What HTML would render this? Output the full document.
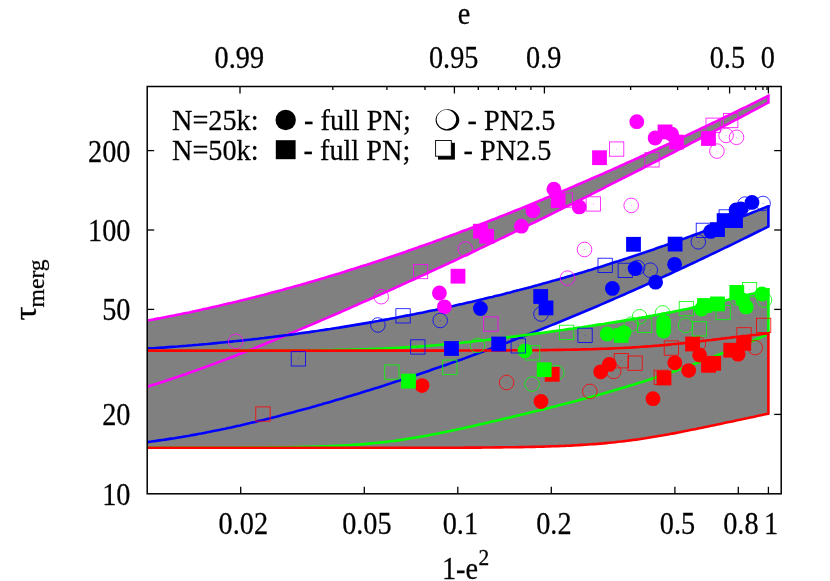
<!DOCTYPE html>
<html><head><meta charset="utf-8"><title>chart</title>
<style>html,body{margin:0;padding:0;background:#fff;}svg{display:block;}text{font-family:"Liberation Serif",serif;fill:#000;stroke:#000;stroke-width:0.25px;}</style>
</head><body>
<svg width="830" height="581" viewBox="0 0 830 581">
<rect width="830" height="581" fill="#fff"/>
<g><path d="M147.2 320.6 L150.2 320.0 L153.2 319.5 L156.2 318.9 L159.2 318.4 L162.2 317.8 L165.2 317.2 L168.2 316.6 L171.2 316.0 L174.2 315.4 L177.2 314.8 L180.2 314.2 L183.2 313.6 L186.2 313.0 L189.2 312.4 L192.2 311.7 L195.2 311.1 L198.2 310.4 L201.2 309.8 L204.2 309.1 L207.2 308.5 L210.2 307.8 L213.2 307.1 L216.2 306.4 L219.2 305.7 L222.2 305.0 L225.2 304.3 L228.2 303.6 L231.2 302.9 L234.2 302.2 L237.2 301.5 L240.2 300.7 L243.2 300.0 L246.2 299.3 L249.2 298.5 L252.2 297.7 L255.2 297.0 L258.2 296.2 L261.2 295.4 L264.2 294.7 L267.2 293.9 L270.2 293.1 L273.2 292.3 L276.2 291.5 L279.2 290.7 L282.2 289.9 L285.2 289.0 L288.2 288.2 L291.2 287.4 L294.2 286.6 L297.2 285.7 L300.2 284.9 L303.2 284.0 L306.2 283.2 L309.2 282.3 L312.2 281.4 L315.2 280.6 L318.2 279.7 L321.2 278.8 L324.2 277.9 L327.2 277.0 L330.2 276.1 L333.2 275.2 L336.2 274.3 L339.2 273.4 L342.2 272.4 L345.2 271.5 L348.2 270.6 L351.2 269.6 L354.2 268.7 L357.2 267.7 L360.2 266.8 L363.2 265.8 L366.2 264.9 L369.2 263.9 L372.2 262.9 L375.2 261.9 L378.2 261.0 L381.2 260.0 L384.2 259.0 L387.2 258.0 L390.2 257.0 L393.2 256.0 L396.2 254.9 L399.2 253.9 L402.2 252.9 L405.2 251.9 L408.2 250.8 L411.2 249.8 L414.2 248.7 L417.2 247.7 L420.2 246.6 L423.2 245.6 L426.2 244.5 L429.2 243.4 L432.2 242.4 L435.2 241.3 L438.2 240.2 L441.2 239.1 L444.2 238.0 L447.2 236.9 L450.2 235.8 L453.2 234.7 L456.2 233.6 L459.2 232.5 L462.2 231.3 L465.2 230.2 L468.2 229.1 L471.2 227.9 L474.2 226.8 L477.2 225.6 L480.2 224.5 L483.2 223.3 L486.2 222.2 L489.2 221.0 L492.2 219.8 L495.2 218.7 L498.2 217.5 L501.2 216.3 L504.2 215.1 L507.2 213.9 L510.2 212.7 L513.2 211.5 L516.2 210.3 L519.2 209.1 L522.2 207.9 L525.2 206.7 L528.2 205.5 L531.2 204.2 L534.2 203.0 L537.2 201.8 L540.2 200.5 L543.2 199.3 L546.2 198.0 L549.2 196.8 L552.2 195.5 L555.2 194.3 L558.2 193.0 L561.2 191.7 L564.2 190.4 L567.2 189.2 L570.2 187.9 L573.2 186.6 L576.2 185.3 L579.2 184.0 L582.2 182.7 L585.2 181.4 L588.2 180.1 L591.2 178.8 L594.2 177.5 L597.2 176.2 L600.2 174.9 L603.2 173.6 L606.2 172.2 L609.2 170.9 L612.2 169.6 L615.2 168.2 L618.2 166.9 L621.2 165.5 L624.2 164.2 L627.2 162.8 L630.2 161.5 L633.2 160.1 L636.2 158.8 L639.2 157.4 L642.2 156.0 L645.2 154.7 L648.2 153.3 L651.2 151.9 L654.2 150.5 L657.2 149.2 L660.2 147.8 L663.2 146.4 L666.2 145.0 L669.2 143.6 L672.2 142.2 L675.2 140.8 L678.2 139.4 L681.2 138.0 L684.2 136.6 L687.2 135.1 L690.2 133.7 L693.2 132.3 L696.2 130.9 L699.2 129.5 L702.2 128.0 L705.2 126.6 L708.2 125.2 L711.2 123.7 L714.2 122.3 L717.2 120.8 L720.2 119.4 L723.2 118.0 L726.2 116.5 L729.2 115.1 L732.2 113.6 L735.2 112.1 L738.2 110.7 L741.2 109.2 L744.2 107.8 L747.2 106.3 L750.2 104.8 L753.2 103.3 L756.2 101.9 L759.2 100.4 L762.2 98.9 L765.2 97.4 L768.2 95.9 L768.4 95.8 L768.4 102.5 L768.2 102.6 L765.2 104.2 L762.2 105.8 L759.2 107.4 L756.2 109.0 L753.2 110.6 L750.2 112.2 L747.2 113.8 L744.2 115.4 L741.2 117.0 L738.2 118.5 L735.2 120.1 L732.2 121.7 L729.2 123.3 L726.2 124.9 L723.2 126.4 L720.2 128.0 L717.2 129.6 L714.2 131.2 L711.2 132.7 L708.2 134.3 L705.2 135.9 L702.2 137.4 L699.2 139.0 L696.2 140.6 L693.2 142.1 L690.2 143.7 L687.2 145.3 L684.2 146.8 L681.2 148.4 L678.2 149.9 L675.2 151.5 L672.2 153.0 L669.2 154.6 L666.2 156.1 L663.2 157.7 L660.2 159.2 L657.2 160.8 L654.2 162.3 L651.2 163.8 L648.2 165.4 L645.2 166.9 L642.2 168.5 L639.2 170.0 L636.2 171.5 L633.2 173.1 L630.2 174.6 L627.2 176.1 L624.2 177.6 L621.2 179.2 L618.2 180.7 L615.2 182.2 L612.2 183.7 L609.2 185.2 L606.2 186.7 L603.2 188.3 L600.2 189.8 L597.2 191.3 L594.2 192.8 L591.2 194.3 L588.2 195.8 L585.2 197.3 L582.2 198.8 L579.2 200.3 L576.2 201.8 L573.2 203.3 L570.2 204.8 L567.2 206.2 L564.2 207.7 L561.2 209.2 L558.2 210.7 L555.2 212.2 L552.2 213.6 L549.2 215.1 L546.2 216.6 L543.2 218.1 L540.2 219.5 L537.2 221.0 L534.2 222.5 L531.2 223.9 L528.2 225.4 L525.2 226.8 L522.2 228.3 L519.2 229.8 L516.2 231.2 L513.2 232.7 L510.2 234.1 L507.2 235.5 L504.2 237.0 L501.2 238.4 L498.2 239.9 L495.2 241.3 L492.2 242.7 L489.2 244.2 L486.2 245.6 L483.2 247.0 L480.2 248.4 L477.2 249.9 L474.2 251.3 L471.2 252.7 L468.2 254.1 L465.2 255.5 L462.2 256.9 L459.2 258.3 L456.2 259.8 L453.2 261.2 L450.2 262.6 L447.2 264.0 L444.2 265.4 L441.2 266.7 L438.2 268.1 L435.2 269.5 L432.2 270.9 L429.2 272.3 L426.2 273.7 L423.2 275.1 L420.2 276.4 L417.2 277.8 L414.2 279.2 L411.2 280.5 L408.2 281.9 L405.2 283.3 L402.2 284.6 L399.2 286.0 L396.2 287.4 L393.2 288.7 L390.2 290.1 L387.2 291.4 L384.2 292.8 L381.2 294.1 L378.2 295.5 L375.2 296.8 L372.2 298.1 L369.2 299.5 L366.2 300.8 L363.2 302.1 L360.2 303.4 L357.2 304.8 L354.2 306.1 L351.2 307.4 L348.2 308.7 L345.2 310.0 L342.2 311.4 L339.2 312.7 L336.2 314.0 L333.2 315.3 L330.2 316.6 L327.2 317.9 L324.2 319.1 L321.2 320.4 L318.2 321.7 L315.2 323.0 L312.2 324.3 L309.2 325.6 L306.2 326.8 L303.2 328.1 L300.2 329.4 L297.2 330.6 L294.2 331.9 L291.2 333.1 L288.2 334.4 L285.2 335.6 L282.2 336.9 L279.2 338.1 L276.2 339.4 L273.2 340.6 L270.2 341.8 L267.2 343.0 L264.2 344.3 L261.2 345.5 L258.2 346.7 L255.2 347.9 L252.2 349.1 L249.2 350.3 L246.2 351.5 L243.2 352.6 L240.2 353.8 L237.2 355.0 L234.2 356.2 L231.2 357.3 L228.2 358.5 L225.2 359.6 L222.2 360.8 L219.2 361.9 L216.2 363.0 L213.2 364.1 L210.2 365.3 L207.2 366.4 L204.2 367.5 L201.2 368.5 L198.2 369.6 L195.2 370.7 L192.2 371.8 L189.2 372.8 L186.2 373.9 L183.2 374.9 L180.2 375.9 L177.2 377.0 L174.2 378.0 L171.2 379.0 L168.2 380.0 L165.2 381.0 L162.2 381.9 L159.2 382.9 L156.2 383.9 L153.2 384.8 L150.2 385.7 L147.2 386.7 Z" fill="#808080" stroke="none"/>
<path d="M147.2 348.6 L150.2 348.4 L153.2 348.2 L156.2 348.0 L159.2 347.8 L162.2 347.6 L165.2 347.4 L168.2 347.1 L171.2 346.9 L174.2 346.7 L177.2 346.5 L180.2 346.2 L183.2 346.0 L186.2 345.8 L189.2 345.5 L192.2 345.3 L195.2 345.0 L198.2 344.8 L201.2 344.5 L204.2 344.2 L207.2 344.0 L210.2 343.7 L213.2 343.4 L216.2 343.1 L219.2 342.8 L222.2 342.5 L225.2 342.2 L228.2 341.9 L231.2 341.6 L234.2 341.3 L237.2 341.0 L240.2 340.7 L243.2 340.4 L246.2 340.0 L249.2 339.7 L252.2 339.4 L255.2 339.0 L258.2 338.7 L261.2 338.3 L264.2 338.0 L267.2 337.6 L270.2 337.2 L273.2 336.9 L276.2 336.5 L279.2 336.1 L282.2 335.7 L285.2 335.3 L288.2 335.0 L291.2 334.6 L294.2 334.2 L297.2 333.7 L300.2 333.3 L303.2 332.9 L306.2 332.5 L309.2 332.1 L312.2 331.6 L315.2 331.2 L318.2 330.8 L321.2 330.3 L324.2 329.9 L327.2 329.4 L330.2 329.0 L333.2 328.5 L336.2 328.0 L339.2 327.6 L342.2 327.1 L345.2 326.6 L348.2 326.1 L351.2 325.6 L354.2 325.1 L357.2 324.6 L360.2 324.1 L363.2 323.6 L366.2 323.1 L369.2 322.6 L372.2 322.1 L375.2 321.5 L378.2 321.0 L381.2 320.4 L384.2 319.9 L387.2 319.4 L390.2 318.8 L393.2 318.2 L396.2 317.7 L399.2 317.1 L402.2 316.5 L405.2 315.9 L408.2 315.4 L411.2 314.8 L414.2 314.2 L417.2 313.6 L420.2 313.0 L423.2 312.4 L426.2 311.7 L429.2 311.1 L432.2 310.5 L435.2 309.9 L438.2 309.2 L441.2 308.6 L444.2 307.9 L447.2 307.3 L450.2 306.6 L453.2 306.0 L456.2 305.3 L459.2 304.6 L462.2 304.0 L465.2 303.3 L468.2 302.6 L471.2 301.9 L474.2 301.2 L477.2 300.5 L480.2 299.8 L483.2 299.1 L486.2 298.3 L489.2 297.6 L492.2 296.9 L495.2 296.1 L498.2 295.4 L501.2 294.7 L504.2 293.9 L507.2 293.1 L510.2 292.4 L513.2 291.6 L516.2 290.8 L519.2 290.1 L522.2 289.3 L525.2 288.5 L528.2 287.7 L531.2 286.9 L534.2 286.1 L537.2 285.3 L540.2 284.4 L543.2 283.6 L546.2 282.8 L549.2 281.9 L552.2 281.1 L555.2 280.3 L558.2 279.4 L561.2 278.5 L564.2 277.7 L567.2 276.8 L570.2 275.9 L573.2 275.1 L576.2 274.2 L579.2 273.3 L582.2 272.4 L585.2 271.5 L588.2 270.6 L591.2 269.7 L594.2 268.7 L597.2 267.8 L600.2 266.9 L603.2 265.9 L606.2 265.0 L609.2 264.1 L612.2 263.1 L615.2 262.1 L618.2 261.2 L621.2 260.2 L624.2 259.2 L627.2 258.3 L630.2 257.3 L633.2 256.3 L636.2 255.3 L639.2 254.3 L642.2 253.3 L645.2 252.3 L648.2 251.2 L651.2 250.2 L654.2 249.2 L657.2 248.1 L660.2 247.1 L663.2 246.1 L666.2 245.0 L669.2 244.0 L672.2 242.9 L675.2 241.8 L678.2 240.8 L681.2 239.7 L684.2 238.6 L687.2 237.5 L690.2 236.4 L693.2 235.3 L696.2 234.2 L699.2 233.1 L702.2 232.0 L705.2 230.9 L708.2 229.7 L711.2 228.6 L714.2 227.5 L717.2 226.3 L720.2 225.2 L723.2 224.0 L726.2 222.9 L729.2 221.7 L732.2 220.6 L735.2 219.4 L738.2 218.2 L741.2 217.1 L744.2 215.9 L747.2 214.7 L750.2 213.5 L753.2 212.3 L756.2 211.1 L759.2 209.9 L762.2 208.7 L765.2 207.5 L768.2 206.2 L768.4 206.2 L768.4 226.5 L768.2 226.6 L765.2 228.1 L762.2 229.6 L759.2 231.0 L756.2 232.5 L753.2 234.0 L750.2 235.5 L747.2 237.0 L744.2 238.4 L741.2 239.9 L738.2 241.4 L735.2 242.8 L732.2 244.3 L729.2 245.8 L726.2 247.2 L723.2 248.7 L720.2 250.1 L717.2 251.6 L714.2 253.0 L711.2 254.4 L708.2 255.9 L705.2 257.3 L702.2 258.7 L699.2 260.1 L696.2 261.6 L693.2 263.0 L690.2 264.4 L687.2 265.8 L684.2 267.2 L681.2 268.6 L678.2 270.0 L675.2 271.4 L672.2 272.8 L669.2 274.2 L666.2 275.5 L663.2 276.9 L660.2 278.3 L657.2 279.7 L654.2 281.0 L651.2 282.4 L648.2 283.7 L645.2 285.1 L642.2 286.5 L639.2 287.8 L636.2 289.1 L633.2 290.5 L630.2 291.8 L627.2 293.1 L624.2 294.5 L621.2 295.8 L618.2 297.1 L615.2 298.4 L612.2 299.7 L609.2 301.0 L606.2 302.3 L603.2 303.6 L600.2 304.9 L597.2 306.2 L594.2 307.5 L591.2 308.7 L588.2 310.0 L585.2 311.3 L582.2 312.5 L579.2 313.8 L576.2 315.0 L573.2 316.3 L570.2 317.5 L567.2 318.8 L564.2 320.0 L561.2 321.2 L558.2 322.5 L555.2 323.7 L552.2 324.9 L549.2 326.1 L546.2 327.3 L543.2 328.5 L540.2 329.7 L537.2 330.9 L534.2 332.1 L531.2 333.3 L528.2 334.4 L525.2 335.6 L522.2 336.8 L519.2 337.9 L516.2 339.1 L513.2 340.3 L510.2 341.4 L507.2 342.6 L504.2 343.7 L501.2 344.8 L498.2 346.0 L495.2 347.1 L492.2 348.2 L489.2 349.3 L486.2 350.4 L483.2 351.5 L480.2 352.6 L477.2 353.7 L474.2 354.8 L471.2 355.9 L468.2 357.0 L465.2 358.1 L462.2 359.2 L459.2 360.2 L456.2 361.3 L453.2 362.3 L450.2 363.4 L447.2 364.5 L444.2 365.5 L441.2 366.5 L438.2 367.6 L435.2 368.6 L432.2 369.6 L429.2 370.7 L426.2 371.7 L423.2 372.7 L420.2 373.7 L417.2 374.7 L414.2 375.7 L411.2 376.7 L408.2 377.7 L405.2 378.7 L402.2 379.7 L399.2 380.6 L396.2 381.6 L393.2 382.6 L390.2 383.6 L387.2 384.5 L384.2 385.5 L381.2 386.4 L378.2 387.4 L375.2 388.3 L372.2 389.2 L369.2 390.2 L366.2 391.1 L363.2 392.0 L360.2 393.0 L357.2 393.9 L354.2 394.8 L351.2 395.7 L348.2 396.6 L345.2 397.5 L342.2 398.4 L339.2 399.3 L336.2 400.1 L333.2 401.0 L330.2 401.9 L327.2 402.8 L324.2 403.6 L321.2 404.5 L318.2 405.3 L315.2 406.2 L312.2 407.0 L309.2 407.9 L306.2 408.7 L303.2 409.5 L300.2 410.3 L297.2 411.1 L294.2 411.9 L291.2 412.7 L288.2 413.5 L285.2 414.3 L282.2 415.1 L279.2 415.9 L276.2 416.7 L273.2 417.4 L270.2 418.2 L267.2 418.9 L264.2 419.7 L261.2 420.4 L258.2 421.1 L255.2 421.9 L252.2 422.6 L249.2 423.3 L246.2 424.0 L243.2 424.7 L240.2 425.4 L237.2 426.0 L234.2 426.7 L231.2 427.4 L228.2 428.0 L225.2 428.7 L222.2 429.3 L219.2 429.9 L216.2 430.5 L213.2 431.1 L210.2 431.7 L207.2 432.3 L204.2 432.9 L201.2 433.5 L198.2 434.0 L195.2 434.6 L192.2 435.1 L189.2 435.7 L186.2 436.2 L183.2 436.7 L180.2 437.2 L177.2 437.7 L174.2 438.2 L171.2 438.6 L168.2 439.1 L165.2 439.6 L162.2 440.0 L159.2 440.4 L156.2 440.9 L153.2 441.3 L150.2 441.7 L147.2 442.1 Z" fill="#808080" stroke="none"/>
<path d="M147.2 350.7 L150.2 350.7 L153.2 350.7 L156.2 350.7 L159.2 350.7 L162.2 350.7 L165.2 350.7 L168.2 350.7 L171.2 350.7 L174.2 350.7 L177.2 350.7 L180.2 350.7 L183.2 350.7 L186.2 350.7 L189.2 350.7 L192.2 350.6 L195.2 350.6 L198.2 350.6 L201.2 350.6 L204.2 350.6 L207.2 350.6 L210.2 350.6 L213.2 350.6 L216.2 350.6 L219.2 350.6 L222.2 350.6 L225.2 350.6 L228.2 350.6 L231.2 350.6 L234.2 350.6 L237.2 350.6 L240.2 350.6 L243.2 350.6 L246.2 350.6 L249.2 350.6 L252.2 350.6 L255.2 350.6 L258.2 350.6 L261.2 350.5 L264.2 350.5 L267.2 350.5 L270.2 350.5 L273.2 350.5 L276.2 350.5 L279.2 350.5 L282.2 350.5 L285.2 350.5 L288.2 350.4 L291.2 350.4 L294.2 350.4 L297.2 350.4 L300.2 350.4 L303.2 350.3 L306.2 350.3 L309.2 350.3 L312.2 350.2 L315.2 350.2 L318.2 350.2 L321.2 350.1 L324.2 350.1 L327.2 350.1 L330.2 350.0 L333.2 350.0 L336.2 349.9 L339.2 349.9 L342.2 349.8 L345.2 349.8 L348.2 349.7 L351.2 349.6 L354.2 349.5 L357.2 349.5 L360.2 349.4 L363.2 349.3 L366.2 349.2 L369.2 349.1 L372.2 349.0 L375.2 348.9 L378.2 348.8 L381.2 348.7 L384.2 348.5 L387.2 348.4 L390.2 348.3 L393.2 348.1 L396.2 348.0 L399.2 347.8 L402.2 347.6 L405.2 347.4 L408.2 347.3 L411.2 347.1 L414.2 346.9 L417.2 346.7 L420.2 346.4 L423.2 346.2 L426.2 346.0 L429.2 345.8 L432.2 345.5 L435.2 345.3 L438.2 345.0 L441.2 344.7 L444.2 344.4 L447.2 344.2 L450.2 343.9 L453.2 343.6 L456.2 343.3 L459.2 343.0 L462.2 342.7 L465.2 342.3 L468.2 342.0 L471.2 341.7 L474.2 341.3 L477.2 341.0 L480.2 340.7 L483.2 340.3 L486.2 340.0 L489.2 339.6 L492.2 339.2 L495.2 338.9 L498.2 338.5 L501.2 338.1 L504.2 337.8 L507.2 337.4 L510.2 337.0 L513.2 336.6 L516.2 336.2 L519.2 335.8 L522.2 335.5 L525.2 335.1 L528.2 334.7 L531.2 334.3 L534.2 333.9 L537.2 333.5 L540.2 333.1 L543.2 332.7 L546.2 332.3 L549.2 331.9 L552.2 331.4 L555.2 331.0 L558.2 330.6 L561.2 330.2 L564.2 329.8 L567.2 329.3 L570.2 328.9 L573.2 328.5 L576.2 328.0 L579.2 327.6 L582.2 327.2 L585.2 326.7 L588.2 326.3 L591.2 325.8 L594.2 325.4 L597.2 324.9 L600.2 324.4 L603.2 324.0 L606.2 323.5 L609.2 323.0 L612.2 322.6 L615.2 322.1 L618.2 321.6 L621.2 321.1 L624.2 320.6 L627.2 320.1 L630.2 319.6 L633.2 319.1 L636.2 318.6 L639.2 318.0 L642.2 317.5 L645.2 317.0 L648.2 316.4 L651.2 315.9 L654.2 315.3 L657.2 314.8 L660.2 314.2 L663.2 313.6 L666.2 313.1 L669.2 312.5 L672.2 311.9 L675.2 311.3 L678.2 310.7 L681.2 310.1 L684.2 309.5 L687.2 308.9 L690.2 308.3 L693.2 307.6 L696.2 307.0 L699.2 306.3 L702.2 305.7 L705.2 305.0 L708.2 304.4 L711.2 303.7 L714.2 303.0 L717.2 302.3 L720.2 301.6 L723.2 300.9 L726.2 300.2 L729.2 299.5 L732.2 298.8 L735.2 298.0 L738.2 297.3 L741.2 296.5 L744.2 295.8 L747.2 295.0 L750.2 294.2 L753.2 293.5 L756.2 292.7 L759.2 291.9 L762.2 291.1 L765.2 290.3 L768.2 289.4 L768.4 289.4 L768.4 333.9 L768.2 334.0 L765.2 335.3 L762.2 336.6 L759.2 338.0 L756.2 339.3 L753.2 340.5 L750.2 341.8 L747.2 343.1 L744.2 344.4 L741.2 345.6 L738.2 346.9 L735.2 348.1 L732.2 349.3 L729.2 350.5 L726.2 351.7 L723.2 352.9 L720.2 354.1 L717.2 355.3 L714.2 356.5 L711.2 357.6 L708.2 358.8 L705.2 359.9 L702.2 361.1 L699.2 362.2 L696.2 363.3 L693.2 364.4 L690.2 365.5 L687.2 366.6 L684.2 367.7 L681.2 368.8 L678.2 369.8 L675.2 370.9 L672.2 371.9 L669.2 372.9 L666.2 374.0 L663.2 375.0 L660.2 376.0 L657.2 377.0 L654.2 378.0 L651.2 379.0 L648.2 379.9 L645.2 380.9 L642.2 381.9 L639.2 382.8 L636.2 383.7 L633.2 384.7 L630.2 385.6 L627.2 386.5 L624.2 387.4 L621.2 388.3 L618.2 389.2 L615.2 390.1 L612.2 391.0 L609.2 391.8 L606.2 392.7 L603.2 393.5 L600.2 394.4 L597.2 395.2 L594.2 396.1 L591.2 396.9 L588.2 397.7 L585.2 398.5 L582.2 399.3 L579.2 400.1 L576.2 400.9 L573.2 401.7 L570.2 402.5 L567.2 403.3 L564.2 404.1 L561.2 404.8 L558.2 405.6 L555.2 406.4 L552.2 407.1 L549.2 407.9 L546.2 408.6 L543.2 409.4 L540.2 410.1 L537.2 410.8 L534.2 411.6 L531.2 412.3 L528.2 413.0 L525.2 413.8 L522.2 414.5 L519.2 415.2 L516.2 415.9 L513.2 416.6 L510.2 417.4 L507.2 418.1 L504.2 418.8 L501.2 419.5 L498.2 420.2 L495.2 420.9 L492.2 421.6 L489.2 422.3 L486.2 423.0 L483.2 423.7 L480.2 424.3 L477.2 425.0 L474.2 425.7 L471.2 426.4 L468.2 427.0 L465.2 427.7 L462.2 428.4 L459.2 429.0 L456.2 429.7 L453.2 430.3 L450.2 431.0 L447.2 431.6 L444.2 432.2 L441.2 432.8 L438.2 433.4 L435.2 434.0 L432.2 434.6 L429.2 435.2 L426.2 435.7 L423.2 436.3 L420.2 436.8 L417.2 437.3 L414.2 437.8 L411.2 438.3 L408.2 438.8 L405.2 439.3 L402.2 439.7 L399.2 440.1 L396.2 440.6 L393.2 441.0 L390.2 441.3 L387.2 441.7 L384.2 442.1 L381.2 442.4 L378.2 442.7 L375.2 443.0 L372.2 443.3 L369.2 443.6 L366.2 443.9 L363.2 444.1 L360.2 444.4 L357.2 444.6 L354.2 444.8 L351.2 445.0 L348.2 445.2 L345.2 445.4 L342.2 445.5 L339.2 445.7 L336.2 445.8 L333.2 446.0 L330.2 446.1 L327.2 446.2 L324.2 446.3 L321.2 446.4 L318.2 446.5 L315.2 446.6 L312.2 446.7 L309.2 446.8 L306.2 446.9 L303.2 446.9 L300.2 447.0 L297.2 447.1 L294.2 447.1 L291.2 447.2 L288.2 447.2 L285.2 447.3 L282.2 447.3 L279.2 447.3 L276.2 447.4 L273.2 447.4 L270.2 447.4 L267.2 447.5 L264.2 447.5 L261.2 447.5 L258.2 447.5 L255.2 447.6 L252.2 447.6 L249.2 447.6 L246.2 447.6 L243.2 447.6 L240.2 447.6 L237.2 447.7 L234.2 447.7 L231.2 447.7 L228.2 447.7 L225.2 447.7 L222.2 447.7 L219.2 447.7 L216.2 447.7 L213.2 447.7 L210.2 447.7 L207.2 447.7 L204.2 447.8 L201.2 447.8 L198.2 447.8 L195.2 447.8 L192.2 447.8 L189.2 447.8 L186.2 447.8 L183.2 447.8 L180.2 447.8 L177.2 447.8 L174.2 447.8 L171.2 447.8 L168.2 447.8 L165.2 447.8 L162.2 447.8 L159.2 447.8 L156.2 447.8 L153.2 447.8 L150.2 447.8 L147.2 447.8 Z" fill="#808080" stroke="none"/>
<path d="M147.2 350.6 L150.2 350.6 L153.2 350.6 L156.2 350.6 L159.2 350.6 L162.2 350.6 L165.2 350.6 L168.2 350.6 L171.2 350.6 L174.2 350.6 L177.2 350.6 L180.2 350.6 L183.2 350.6 L186.2 350.6 L189.2 350.6 L192.2 350.6 L195.2 350.6 L198.2 350.6 L201.2 350.6 L204.2 350.6 L207.2 350.6 L210.2 350.6 L213.2 350.6 L216.2 350.6 L219.2 350.6 L222.2 350.6 L225.2 350.6 L228.2 350.6 L231.2 350.6 L234.2 350.6 L237.2 350.6 L240.2 350.6 L243.2 350.6 L246.2 350.6 L249.2 350.6 L252.2 350.6 L255.2 350.6 L258.2 350.6 L261.2 350.6 L264.2 350.6 L267.2 350.6 L270.2 350.6 L273.2 350.6 L276.2 350.6 L279.2 350.6 L282.2 350.6 L285.2 350.6 L288.2 350.6 L291.2 350.6 L294.2 350.6 L297.2 350.6 L300.2 350.6 L303.2 350.6 L306.2 350.6 L309.2 350.6 L312.2 350.6 L315.2 350.6 L318.2 350.6 L321.2 350.6 L324.2 350.6 L327.2 350.6 L330.2 350.6 L333.2 350.6 L336.2 350.6 L339.2 350.6 L342.2 350.6 L345.2 350.6 L348.2 350.6 L351.2 350.6 L354.2 350.6 L357.2 350.6 L360.2 350.6 L363.2 350.6 L366.2 350.6 L369.2 350.6 L372.2 350.6 L375.2 350.6 L378.2 350.6 L381.2 350.6 L384.2 350.6 L387.2 350.6 L390.2 350.6 L393.2 350.6 L396.2 350.6 L399.2 350.6 L402.2 350.6 L405.2 350.6 L408.2 350.6 L411.2 350.6 L414.2 350.6 L417.2 350.6 L420.2 350.6 L423.2 350.6 L426.2 350.6 L429.2 350.6 L432.2 350.6 L435.2 350.6 L438.2 350.6 L441.2 350.6 L444.2 350.6 L447.2 350.6 L450.2 350.5 L453.2 350.5 L456.2 350.5 L459.2 350.5 L462.2 350.5 L465.2 350.5 L468.2 350.5 L471.2 350.5 L474.2 350.5 L477.2 350.5 L480.2 350.5 L483.2 350.5 L486.2 350.5 L489.2 350.5 L492.2 350.4 L495.2 350.4 L498.2 350.4 L501.2 350.4 L504.2 350.4 L507.2 350.4 L510.2 350.4 L513.2 350.3 L516.2 350.3 L519.2 350.3 L522.2 350.3 L525.2 350.3 L528.2 350.2 L531.2 350.2 L534.2 350.2 L537.2 350.2 L540.2 350.1 L543.2 350.1 L546.2 350.1 L549.2 350.0 L552.2 350.0 L555.2 349.9 L558.2 349.9 L561.2 349.9 L564.2 349.8 L567.2 349.7 L570.2 349.7 L573.2 349.6 L576.2 349.6 L579.2 349.5 L582.2 349.4 L585.2 349.4 L588.2 349.3 L591.2 349.2 L594.2 349.1 L597.2 349.0 L600.2 348.9 L603.2 348.8 L606.2 348.7 L609.2 348.6 L612.2 348.5 L615.2 348.3 L618.2 348.2 L621.2 348.0 L624.2 347.9 L627.2 347.7 L630.2 347.6 L633.2 347.4 L636.2 347.2 L639.2 347.0 L642.2 346.8 L645.2 346.6 L648.2 346.4 L651.2 346.2 L654.2 345.9 L657.2 345.7 L660.2 345.4 L663.2 345.2 L666.2 344.9 L669.2 344.6 L672.2 344.3 L675.2 344.0 L678.2 343.7 L681.2 343.4 L684.2 343.1 L687.2 342.8 L690.2 342.4 L693.2 342.1 L696.2 341.7 L699.2 341.4 L702.2 341.0 L705.2 340.7 L708.2 340.3 L711.2 340.0 L714.2 339.6 L717.2 339.2 L720.2 338.9 L723.2 338.5 L726.2 338.1 L729.2 337.8 L732.2 337.4 L735.2 337.0 L738.2 336.7 L741.2 336.3 L744.2 336.0 L747.2 335.7 L750.2 335.3 L753.2 335.0 L756.2 334.7 L759.2 334.4 L762.2 334.0 L765.2 333.7 L768.2 333.5 L768.4 333.4 L768.4 413.6 L768.2 413.7 L765.2 414.3 L762.2 414.9 L759.2 415.6 L756.2 416.2 L753.2 416.9 L750.2 417.5 L747.2 418.2 L744.2 418.8 L741.2 419.4 L738.2 420.1 L735.2 420.7 L732.2 421.4 L729.2 422.0 L726.2 422.6 L723.2 423.3 L720.2 423.9 L717.2 424.6 L714.2 425.2 L711.2 425.8 L708.2 426.5 L705.2 427.1 L702.2 427.7 L699.2 428.3 L696.2 428.9 L693.2 429.5 L690.2 430.1 L687.2 430.7 L684.2 431.3 L681.2 431.9 L678.2 432.5 L675.2 433.1 L672.2 433.6 L669.2 434.2 L666.2 434.7 L663.2 435.3 L660.2 435.8 L657.2 436.3 L654.2 436.8 L651.2 437.3 L648.2 437.8 L645.2 438.3 L642.2 438.7 L639.2 439.2 L636.2 439.6 L633.2 440.0 L630.2 440.4 L627.2 440.8 L624.2 441.1 L621.2 441.5 L618.2 441.8 L615.2 442.2 L612.2 442.5 L609.2 442.8 L606.2 443.1 L603.2 443.4 L600.2 443.6 L597.2 443.9 L594.2 444.1 L591.2 444.3 L588.2 444.5 L585.2 444.7 L582.2 444.9 L579.2 445.1 L576.2 445.3 L573.2 445.4 L570.2 445.6 L567.2 445.7 L564.2 445.9 L561.2 446.0 L558.2 446.1 L555.2 446.2 L552.2 446.3 L549.2 446.4 L546.2 446.5 L543.2 446.6 L540.2 446.7 L537.2 446.8 L534.2 446.9 L531.2 446.9 L528.2 447.0 L525.2 447.0 L522.2 447.1 L519.2 447.1 L516.2 447.2 L513.2 447.2 L510.2 447.3 L507.2 447.3 L504.2 447.3 L501.2 447.4 L498.2 447.4 L495.2 447.4 L492.2 447.5 L489.2 447.5 L486.2 447.5 L483.2 447.5 L480.2 447.6 L477.2 447.6 L474.2 447.6 L471.2 447.6 L468.2 447.6 L465.2 447.6 L462.2 447.7 L459.2 447.7 L456.2 447.7 L453.2 447.7 L450.2 447.7 L447.2 447.7 L444.2 447.7 L441.2 447.7 L438.2 447.7 L435.2 447.7 L432.2 447.7 L429.2 447.7 L426.2 447.8 L423.2 447.8 L420.2 447.8 L417.2 447.8 L414.2 447.8 L411.2 447.8 L408.2 447.8 L405.2 447.8 L402.2 447.8 L399.2 447.8 L396.2 447.8 L393.2 447.8 L390.2 447.8 L387.2 447.8 L384.2 447.8 L381.2 447.8 L378.2 447.8 L375.2 447.8 L372.2 447.8 L369.2 447.8 L366.2 447.8 L363.2 447.8 L360.2 447.8 L357.2 447.8 L354.2 447.8 L351.2 447.8 L348.2 447.8 L345.2 447.8 L342.2 447.8 L339.2 447.8 L336.2 447.8 L333.2 447.8 L330.2 447.8 L327.2 447.8 L324.2 447.8 L321.2 447.8 L318.2 447.8 L315.2 447.8 L312.2 447.8 L309.2 447.8 L306.2 447.8 L303.2 447.8 L300.2 447.8 L297.2 447.8 L294.2 447.8 L291.2 447.8 L288.2 447.8 L285.2 447.8 L282.2 447.8 L279.2 447.8 L276.2 447.8 L273.2 447.8 L270.2 447.8 L267.2 447.8 L264.2 447.8 L261.2 447.8 L258.2 447.8 L255.2 447.8 L252.2 447.8 L249.2 447.8 L246.2 447.8 L243.2 447.8 L240.2 447.8 L237.2 447.8 L234.2 447.8 L231.2 447.8 L228.2 447.8 L225.2 447.8 L222.2 447.8 L219.2 447.8 L216.2 447.8 L213.2 447.8 L210.2 447.8 L207.2 447.8 L204.2 447.8 L201.2 447.8 L198.2 447.8 L195.2 447.8 L192.2 447.8 L189.2 447.8 L186.2 447.8 L183.2 447.8 L180.2 447.8 L177.2 447.8 L174.2 447.8 L171.2 447.8 L168.2 447.8 L165.2 447.8 L162.2 447.8 L159.2 447.8 L156.2 447.8 L153.2 447.8 L150.2 447.8 L147.2 447.8 Z" fill="#808080" stroke="none"/></g>
<g><path d="M147.2 320.6 L150.2 320.0 L153.2 319.5 L156.2 318.9 L159.2 318.4 L162.2 317.8 L165.2 317.2 L168.2 316.6 L171.2 316.0 L174.2 315.4 L177.2 314.8 L180.2 314.2 L183.2 313.6 L186.2 313.0 L189.2 312.4 L192.2 311.7 L195.2 311.1 L198.2 310.4 L201.2 309.8 L204.2 309.1 L207.2 308.5 L210.2 307.8 L213.2 307.1 L216.2 306.4 L219.2 305.7 L222.2 305.0 L225.2 304.3 L228.2 303.6 L231.2 302.9 L234.2 302.2 L237.2 301.5 L240.2 300.7 L243.2 300.0 L246.2 299.3 L249.2 298.5 L252.2 297.7 L255.2 297.0 L258.2 296.2 L261.2 295.4 L264.2 294.7 L267.2 293.9 L270.2 293.1 L273.2 292.3 L276.2 291.5 L279.2 290.7 L282.2 289.9 L285.2 289.0 L288.2 288.2 L291.2 287.4 L294.2 286.6 L297.2 285.7 L300.2 284.9 L303.2 284.0 L306.2 283.2 L309.2 282.3 L312.2 281.4 L315.2 280.6 L318.2 279.7 L321.2 278.8 L324.2 277.9 L327.2 277.0 L330.2 276.1 L333.2 275.2 L336.2 274.3 L339.2 273.4 L342.2 272.4 L345.2 271.5 L348.2 270.6 L351.2 269.6 L354.2 268.7 L357.2 267.7 L360.2 266.8 L363.2 265.8 L366.2 264.9 L369.2 263.9 L372.2 262.9 L375.2 261.9 L378.2 261.0 L381.2 260.0 L384.2 259.0 L387.2 258.0 L390.2 257.0 L393.2 256.0 L396.2 254.9 L399.2 253.9 L402.2 252.9 L405.2 251.9 L408.2 250.8 L411.2 249.8 L414.2 248.7 L417.2 247.7 L420.2 246.6 L423.2 245.6 L426.2 244.5 L429.2 243.4 L432.2 242.4 L435.2 241.3 L438.2 240.2 L441.2 239.1 L444.2 238.0 L447.2 236.9 L450.2 235.8 L453.2 234.7 L456.2 233.6 L459.2 232.5 L462.2 231.3 L465.2 230.2 L468.2 229.1 L471.2 227.9 L474.2 226.8 L477.2 225.6 L480.2 224.5 L483.2 223.3 L486.2 222.2 L489.2 221.0 L492.2 219.8 L495.2 218.7 L498.2 217.5 L501.2 216.3 L504.2 215.1 L507.2 213.9 L510.2 212.7 L513.2 211.5 L516.2 210.3 L519.2 209.1 L522.2 207.9 L525.2 206.7 L528.2 205.5 L531.2 204.2 L534.2 203.0 L537.2 201.8 L540.2 200.5 L543.2 199.3 L546.2 198.0 L549.2 196.8 L552.2 195.5 L555.2 194.3 L558.2 193.0 L561.2 191.7 L564.2 190.4 L567.2 189.2 L570.2 187.9 L573.2 186.6 L576.2 185.3 L579.2 184.0 L582.2 182.7 L585.2 181.4 L588.2 180.1 L591.2 178.8 L594.2 177.5 L597.2 176.2 L600.2 174.9 L603.2 173.6 L606.2 172.2 L609.2 170.9 L612.2 169.6 L615.2 168.2 L618.2 166.9 L621.2 165.5 L624.2 164.2 L627.2 162.8 L630.2 161.5 L633.2 160.1 L636.2 158.8 L639.2 157.4 L642.2 156.0 L645.2 154.7 L648.2 153.3 L651.2 151.9 L654.2 150.5 L657.2 149.2 L660.2 147.8 L663.2 146.4 L666.2 145.0 L669.2 143.6 L672.2 142.2 L675.2 140.8 L678.2 139.4 L681.2 138.0 L684.2 136.6 L687.2 135.1 L690.2 133.7 L693.2 132.3 L696.2 130.9 L699.2 129.5 L702.2 128.0 L705.2 126.6 L708.2 125.2 L711.2 123.7 L714.2 122.3 L717.2 120.8 L720.2 119.4 L723.2 118.0 L726.2 116.5 L729.2 115.1 L732.2 113.6 L735.2 112.1 L738.2 110.7 L741.2 109.2 L744.2 107.8 L747.2 106.3 L750.2 104.8 L753.2 103.3 L756.2 101.9 L759.2 100.4 L762.2 98.9 L765.2 97.4 L768.2 95.9 L768.4 95.8 L768.4 102.5 L768.2 102.6 L765.2 104.2 L762.2 105.8 L759.2 107.4 L756.2 109.0 L753.2 110.6 L750.2 112.2 L747.2 113.8 L744.2 115.4 L741.2 117.0 L738.2 118.5 L735.2 120.1 L732.2 121.7 L729.2 123.3 L726.2 124.9 L723.2 126.4 L720.2 128.0 L717.2 129.6 L714.2 131.2 L711.2 132.7 L708.2 134.3 L705.2 135.9 L702.2 137.4 L699.2 139.0 L696.2 140.6 L693.2 142.1 L690.2 143.7 L687.2 145.3 L684.2 146.8 L681.2 148.4 L678.2 149.9 L675.2 151.5 L672.2 153.0 L669.2 154.6 L666.2 156.1 L663.2 157.7 L660.2 159.2 L657.2 160.8 L654.2 162.3 L651.2 163.8 L648.2 165.4 L645.2 166.9 L642.2 168.5 L639.2 170.0 L636.2 171.5 L633.2 173.1 L630.2 174.6 L627.2 176.1 L624.2 177.6 L621.2 179.2 L618.2 180.7 L615.2 182.2 L612.2 183.7 L609.2 185.2 L606.2 186.7 L603.2 188.3 L600.2 189.8 L597.2 191.3 L594.2 192.8 L591.2 194.3 L588.2 195.8 L585.2 197.3 L582.2 198.8 L579.2 200.3 L576.2 201.8 L573.2 203.3 L570.2 204.8 L567.2 206.2 L564.2 207.7 L561.2 209.2 L558.2 210.7 L555.2 212.2 L552.2 213.6 L549.2 215.1 L546.2 216.6 L543.2 218.1 L540.2 219.5 L537.2 221.0 L534.2 222.5 L531.2 223.9 L528.2 225.4 L525.2 226.8 L522.2 228.3 L519.2 229.8 L516.2 231.2 L513.2 232.7 L510.2 234.1 L507.2 235.5 L504.2 237.0 L501.2 238.4 L498.2 239.9 L495.2 241.3 L492.2 242.7 L489.2 244.2 L486.2 245.6 L483.2 247.0 L480.2 248.4 L477.2 249.9 L474.2 251.3 L471.2 252.7 L468.2 254.1 L465.2 255.5 L462.2 256.9 L459.2 258.3 L456.2 259.8 L453.2 261.2 L450.2 262.6 L447.2 264.0 L444.2 265.4 L441.2 266.7 L438.2 268.1 L435.2 269.5 L432.2 270.9 L429.2 272.3 L426.2 273.7 L423.2 275.1 L420.2 276.4 L417.2 277.8 L414.2 279.2 L411.2 280.5 L408.2 281.9 L405.2 283.3 L402.2 284.6 L399.2 286.0 L396.2 287.4 L393.2 288.7 L390.2 290.1 L387.2 291.4 L384.2 292.8 L381.2 294.1 L378.2 295.5 L375.2 296.8 L372.2 298.1 L369.2 299.5 L366.2 300.8 L363.2 302.1 L360.2 303.4 L357.2 304.8 L354.2 306.1 L351.2 307.4 L348.2 308.7 L345.2 310.0 L342.2 311.4 L339.2 312.7 L336.2 314.0 L333.2 315.3 L330.2 316.6 L327.2 317.9 L324.2 319.1 L321.2 320.4 L318.2 321.7 L315.2 323.0 L312.2 324.3 L309.2 325.6 L306.2 326.8 L303.2 328.1 L300.2 329.4 L297.2 330.6 L294.2 331.9 L291.2 333.1 L288.2 334.4 L285.2 335.6 L282.2 336.9 L279.2 338.1 L276.2 339.4 L273.2 340.6 L270.2 341.8 L267.2 343.0 L264.2 344.3 L261.2 345.5 L258.2 346.7 L255.2 347.9 L252.2 349.1 L249.2 350.3 L246.2 351.5 L243.2 352.6 L240.2 353.8 L237.2 355.0 L234.2 356.2 L231.2 357.3 L228.2 358.5 L225.2 359.6 L222.2 360.8 L219.2 361.9 L216.2 363.0 L213.2 364.1 L210.2 365.3 L207.2 366.4 L204.2 367.5 L201.2 368.5 L198.2 369.6 L195.2 370.7 L192.2 371.8 L189.2 372.8 L186.2 373.9 L183.2 374.9 L180.2 375.9 L177.2 377.0 L174.2 378.0 L171.2 379.0 L168.2 380.0 L165.2 381.0 L162.2 381.9 L159.2 382.9 L156.2 383.9 L153.2 384.8 L150.2 385.7 L147.2 386.7" fill="none" stroke="#ff00ff" stroke-width="2.6" stroke-linejoin="miter"/>
<path d="M147.2 348.6 L150.2 348.4 L153.2 348.2 L156.2 348.0 L159.2 347.8 L162.2 347.6 L165.2 347.4 L168.2 347.1 L171.2 346.9 L174.2 346.7 L177.2 346.5 L180.2 346.2 L183.2 346.0 L186.2 345.8 L189.2 345.5 L192.2 345.3 L195.2 345.0 L198.2 344.8 L201.2 344.5 L204.2 344.2 L207.2 344.0 L210.2 343.7 L213.2 343.4 L216.2 343.1 L219.2 342.8 L222.2 342.5 L225.2 342.2 L228.2 341.9 L231.2 341.6 L234.2 341.3 L237.2 341.0 L240.2 340.7 L243.2 340.4 L246.2 340.0 L249.2 339.7 L252.2 339.4 L255.2 339.0 L258.2 338.7 L261.2 338.3 L264.2 338.0 L267.2 337.6 L270.2 337.2 L273.2 336.9 L276.2 336.5 L279.2 336.1 L282.2 335.7 L285.2 335.3 L288.2 335.0 L291.2 334.6 L294.2 334.2 L297.2 333.7 L300.2 333.3 L303.2 332.9 L306.2 332.5 L309.2 332.1 L312.2 331.6 L315.2 331.2 L318.2 330.8 L321.2 330.3 L324.2 329.9 L327.2 329.4 L330.2 329.0 L333.2 328.5 L336.2 328.0 L339.2 327.6 L342.2 327.1 L345.2 326.6 L348.2 326.1 L351.2 325.6 L354.2 325.1 L357.2 324.6 L360.2 324.1 L363.2 323.6 L366.2 323.1 L369.2 322.6 L372.2 322.1 L375.2 321.5 L378.2 321.0 L381.2 320.4 L384.2 319.9 L387.2 319.4 L390.2 318.8 L393.2 318.2 L396.2 317.7 L399.2 317.1 L402.2 316.5 L405.2 315.9 L408.2 315.4 L411.2 314.8 L414.2 314.2 L417.2 313.6 L420.2 313.0 L423.2 312.4 L426.2 311.7 L429.2 311.1 L432.2 310.5 L435.2 309.9 L438.2 309.2 L441.2 308.6 L444.2 307.9 L447.2 307.3 L450.2 306.6 L453.2 306.0 L456.2 305.3 L459.2 304.6 L462.2 304.0 L465.2 303.3 L468.2 302.6 L471.2 301.9 L474.2 301.2 L477.2 300.5 L480.2 299.8 L483.2 299.1 L486.2 298.3 L489.2 297.6 L492.2 296.9 L495.2 296.1 L498.2 295.4 L501.2 294.7 L504.2 293.9 L507.2 293.1 L510.2 292.4 L513.2 291.6 L516.2 290.8 L519.2 290.1 L522.2 289.3 L525.2 288.5 L528.2 287.7 L531.2 286.9 L534.2 286.1 L537.2 285.3 L540.2 284.4 L543.2 283.6 L546.2 282.8 L549.2 281.9 L552.2 281.1 L555.2 280.3 L558.2 279.4 L561.2 278.5 L564.2 277.7 L567.2 276.8 L570.2 275.9 L573.2 275.1 L576.2 274.2 L579.2 273.3 L582.2 272.4 L585.2 271.5 L588.2 270.6 L591.2 269.7 L594.2 268.7 L597.2 267.8 L600.2 266.9 L603.2 265.9 L606.2 265.0 L609.2 264.1 L612.2 263.1 L615.2 262.1 L618.2 261.2 L621.2 260.2 L624.2 259.2 L627.2 258.3 L630.2 257.3 L633.2 256.3 L636.2 255.3 L639.2 254.3 L642.2 253.3 L645.2 252.3 L648.2 251.2 L651.2 250.2 L654.2 249.2 L657.2 248.1 L660.2 247.1 L663.2 246.1 L666.2 245.0 L669.2 244.0 L672.2 242.9 L675.2 241.8 L678.2 240.8 L681.2 239.7 L684.2 238.6 L687.2 237.5 L690.2 236.4 L693.2 235.3 L696.2 234.2 L699.2 233.1 L702.2 232.0 L705.2 230.9 L708.2 229.7 L711.2 228.6 L714.2 227.5 L717.2 226.3 L720.2 225.2 L723.2 224.0 L726.2 222.9 L729.2 221.7 L732.2 220.6 L735.2 219.4 L738.2 218.2 L741.2 217.1 L744.2 215.9 L747.2 214.7 L750.2 213.5 L753.2 212.3 L756.2 211.1 L759.2 209.9 L762.2 208.7 L765.2 207.5 L768.2 206.2 L768.4 206.2 L768.4 226.5 L768.2 226.6 L765.2 228.1 L762.2 229.6 L759.2 231.0 L756.2 232.5 L753.2 234.0 L750.2 235.5 L747.2 237.0 L744.2 238.4 L741.2 239.9 L738.2 241.4 L735.2 242.8 L732.2 244.3 L729.2 245.8 L726.2 247.2 L723.2 248.7 L720.2 250.1 L717.2 251.6 L714.2 253.0 L711.2 254.4 L708.2 255.9 L705.2 257.3 L702.2 258.7 L699.2 260.1 L696.2 261.6 L693.2 263.0 L690.2 264.4 L687.2 265.8 L684.2 267.2 L681.2 268.6 L678.2 270.0 L675.2 271.4 L672.2 272.8 L669.2 274.2 L666.2 275.5 L663.2 276.9 L660.2 278.3 L657.2 279.7 L654.2 281.0 L651.2 282.4 L648.2 283.7 L645.2 285.1 L642.2 286.5 L639.2 287.8 L636.2 289.1 L633.2 290.5 L630.2 291.8 L627.2 293.1 L624.2 294.5 L621.2 295.8 L618.2 297.1 L615.2 298.4 L612.2 299.7 L609.2 301.0 L606.2 302.3 L603.2 303.6 L600.2 304.9 L597.2 306.2 L594.2 307.5 L591.2 308.7 L588.2 310.0 L585.2 311.3 L582.2 312.5 L579.2 313.8 L576.2 315.0 L573.2 316.3 L570.2 317.5 L567.2 318.8 L564.2 320.0 L561.2 321.2 L558.2 322.5 L555.2 323.7 L552.2 324.9 L549.2 326.1 L546.2 327.3 L543.2 328.5 L540.2 329.7 L537.2 330.9 L534.2 332.1 L531.2 333.3 L528.2 334.4 L525.2 335.6 L522.2 336.8 L519.2 337.9 L516.2 339.1 L513.2 340.3 L510.2 341.4 L507.2 342.6 L504.2 343.7 L501.2 344.8 L498.2 346.0 L495.2 347.1 L492.2 348.2 L489.2 349.3 L486.2 350.4 L483.2 351.5 L480.2 352.6 L477.2 353.7 L474.2 354.8 L471.2 355.9 L468.2 357.0 L465.2 358.1 L462.2 359.2 L459.2 360.2 L456.2 361.3 L453.2 362.3 L450.2 363.4 L447.2 364.5 L444.2 365.5 L441.2 366.5 L438.2 367.6 L435.2 368.6 L432.2 369.6 L429.2 370.7 L426.2 371.7 L423.2 372.7 L420.2 373.7 L417.2 374.7 L414.2 375.7 L411.2 376.7 L408.2 377.7 L405.2 378.7 L402.2 379.7 L399.2 380.6 L396.2 381.6 L393.2 382.6 L390.2 383.6 L387.2 384.5 L384.2 385.5 L381.2 386.4 L378.2 387.4 L375.2 388.3 L372.2 389.2 L369.2 390.2 L366.2 391.1 L363.2 392.0 L360.2 393.0 L357.2 393.9 L354.2 394.8 L351.2 395.7 L348.2 396.6 L345.2 397.5 L342.2 398.4 L339.2 399.3 L336.2 400.1 L333.2 401.0 L330.2 401.9 L327.2 402.8 L324.2 403.6 L321.2 404.5 L318.2 405.3 L315.2 406.2 L312.2 407.0 L309.2 407.9 L306.2 408.7 L303.2 409.5 L300.2 410.3 L297.2 411.1 L294.2 411.9 L291.2 412.7 L288.2 413.5 L285.2 414.3 L282.2 415.1 L279.2 415.9 L276.2 416.7 L273.2 417.4 L270.2 418.2 L267.2 418.9 L264.2 419.7 L261.2 420.4 L258.2 421.1 L255.2 421.9 L252.2 422.6 L249.2 423.3 L246.2 424.0 L243.2 424.7 L240.2 425.4 L237.2 426.0 L234.2 426.7 L231.2 427.4 L228.2 428.0 L225.2 428.7 L222.2 429.3 L219.2 429.9 L216.2 430.5 L213.2 431.1 L210.2 431.7 L207.2 432.3 L204.2 432.9 L201.2 433.5 L198.2 434.0 L195.2 434.6 L192.2 435.1 L189.2 435.7 L186.2 436.2 L183.2 436.7 L180.2 437.2 L177.2 437.7 L174.2 438.2 L171.2 438.6 L168.2 439.1 L165.2 439.6 L162.2 440.0 L159.2 440.4 L156.2 440.9 L153.2 441.3 L150.2 441.7 L147.2 442.1" fill="none" stroke="#0000ff" stroke-width="2.6" stroke-linejoin="miter"/>
<path d="M147.2 350.7 L150.2 350.7 L153.2 350.7 L156.2 350.7 L159.2 350.7 L162.2 350.7 L165.2 350.7 L168.2 350.7 L171.2 350.7 L174.2 350.7 L177.2 350.7 L180.2 350.7 L183.2 350.7 L186.2 350.7 L189.2 350.7 L192.2 350.6 L195.2 350.6 L198.2 350.6 L201.2 350.6 L204.2 350.6 L207.2 350.6 L210.2 350.6 L213.2 350.6 L216.2 350.6 L219.2 350.6 L222.2 350.6 L225.2 350.6 L228.2 350.6 L231.2 350.6 L234.2 350.6 L237.2 350.6 L240.2 350.6 L243.2 350.6 L246.2 350.6 L249.2 350.6 L252.2 350.6 L255.2 350.6 L258.2 350.6 L261.2 350.5 L264.2 350.5 L267.2 350.5 L270.2 350.5 L273.2 350.5 L276.2 350.5 L279.2 350.5 L282.2 350.5 L285.2 350.5 L288.2 350.4 L291.2 350.4 L294.2 350.4 L297.2 350.4 L300.2 350.4 L303.2 350.3 L306.2 350.3 L309.2 350.3 L312.2 350.2 L315.2 350.2 L318.2 350.2 L321.2 350.1 L324.2 350.1 L327.2 350.1 L330.2 350.0 L333.2 350.0 L336.2 349.9 L339.2 349.9 L342.2 349.8 L345.2 349.8 L348.2 349.7 L351.2 349.6 L354.2 349.5 L357.2 349.5 L360.2 349.4 L363.2 349.3 L366.2 349.2 L369.2 349.1 L372.2 349.0 L375.2 348.9 L378.2 348.8 L381.2 348.7 L384.2 348.5 L387.2 348.4 L390.2 348.3 L393.2 348.1 L396.2 348.0 L399.2 347.8 L402.2 347.6 L405.2 347.4 L408.2 347.3 L411.2 347.1 L414.2 346.9 L417.2 346.7 L420.2 346.4 L423.2 346.2 L426.2 346.0 L429.2 345.8 L432.2 345.5 L435.2 345.3 L438.2 345.0 L441.2 344.7 L444.2 344.4 L447.2 344.2 L450.2 343.9 L453.2 343.6 L456.2 343.3 L459.2 343.0 L462.2 342.7 L465.2 342.3 L468.2 342.0 L471.2 341.7 L474.2 341.3 L477.2 341.0 L480.2 340.7 L483.2 340.3 L486.2 340.0 L489.2 339.6 L492.2 339.2 L495.2 338.9 L498.2 338.5 L501.2 338.1 L504.2 337.8 L507.2 337.4 L510.2 337.0 L513.2 336.6 L516.2 336.2 L519.2 335.8 L522.2 335.5 L525.2 335.1 L528.2 334.7 L531.2 334.3 L534.2 333.9 L537.2 333.5 L540.2 333.1 L543.2 332.7 L546.2 332.3 L549.2 331.9 L552.2 331.4 L555.2 331.0 L558.2 330.6 L561.2 330.2 L564.2 329.8 L567.2 329.3 L570.2 328.9 L573.2 328.5 L576.2 328.0 L579.2 327.6 L582.2 327.2 L585.2 326.7 L588.2 326.3 L591.2 325.8 L594.2 325.4 L597.2 324.9 L600.2 324.4 L603.2 324.0 L606.2 323.5 L609.2 323.0 L612.2 322.6 L615.2 322.1 L618.2 321.6 L621.2 321.1 L624.2 320.6 L627.2 320.1 L630.2 319.6 L633.2 319.1 L636.2 318.6 L639.2 318.0 L642.2 317.5 L645.2 317.0 L648.2 316.4 L651.2 315.9 L654.2 315.3 L657.2 314.8 L660.2 314.2 L663.2 313.6 L666.2 313.1 L669.2 312.5 L672.2 311.9 L675.2 311.3 L678.2 310.7 L681.2 310.1 L684.2 309.5 L687.2 308.9 L690.2 308.3 L693.2 307.6 L696.2 307.0 L699.2 306.3 L702.2 305.7 L705.2 305.0 L708.2 304.4 L711.2 303.7 L714.2 303.0 L717.2 302.3 L720.2 301.6 L723.2 300.9 L726.2 300.2 L729.2 299.5 L732.2 298.8 L735.2 298.0 L738.2 297.3 L741.2 296.5 L744.2 295.8 L747.2 295.0 L750.2 294.2 L753.2 293.5 L756.2 292.7 L759.2 291.9 L762.2 291.1 L765.2 290.3 L768.2 289.4 L768.4 289.4 L768.4 333.9 L768.2 334.0 L765.2 335.3 L762.2 336.6 L759.2 338.0 L756.2 339.3 L753.2 340.5 L750.2 341.8 L747.2 343.1 L744.2 344.4 L741.2 345.6 L738.2 346.9 L735.2 348.1 L732.2 349.3 L729.2 350.5 L726.2 351.7 L723.2 352.9 L720.2 354.1 L717.2 355.3 L714.2 356.5 L711.2 357.6 L708.2 358.8 L705.2 359.9 L702.2 361.1 L699.2 362.2 L696.2 363.3 L693.2 364.4 L690.2 365.5 L687.2 366.6 L684.2 367.7 L681.2 368.8 L678.2 369.8 L675.2 370.9 L672.2 371.9 L669.2 372.9 L666.2 374.0 L663.2 375.0 L660.2 376.0 L657.2 377.0 L654.2 378.0 L651.2 379.0 L648.2 379.9 L645.2 380.9 L642.2 381.9 L639.2 382.8 L636.2 383.7 L633.2 384.7 L630.2 385.6 L627.2 386.5 L624.2 387.4 L621.2 388.3 L618.2 389.2 L615.2 390.1 L612.2 391.0 L609.2 391.8 L606.2 392.7 L603.2 393.5 L600.2 394.4 L597.2 395.2 L594.2 396.1 L591.2 396.9 L588.2 397.7 L585.2 398.5 L582.2 399.3 L579.2 400.1 L576.2 400.9 L573.2 401.7 L570.2 402.5 L567.2 403.3 L564.2 404.1 L561.2 404.8 L558.2 405.6 L555.2 406.4 L552.2 407.1 L549.2 407.9 L546.2 408.6 L543.2 409.4 L540.2 410.1 L537.2 410.8 L534.2 411.6 L531.2 412.3 L528.2 413.0 L525.2 413.8 L522.2 414.5 L519.2 415.2 L516.2 415.9 L513.2 416.6 L510.2 417.4 L507.2 418.1 L504.2 418.8 L501.2 419.5 L498.2 420.2 L495.2 420.9 L492.2 421.6 L489.2 422.3 L486.2 423.0 L483.2 423.7 L480.2 424.3 L477.2 425.0 L474.2 425.7 L471.2 426.4 L468.2 427.0 L465.2 427.7 L462.2 428.4 L459.2 429.0 L456.2 429.7 L453.2 430.3 L450.2 431.0 L447.2 431.6 L444.2 432.2 L441.2 432.8 L438.2 433.4 L435.2 434.0 L432.2 434.6 L429.2 435.2 L426.2 435.7 L423.2 436.3 L420.2 436.8 L417.2 437.3 L414.2 437.8 L411.2 438.3 L408.2 438.8 L405.2 439.3 L402.2 439.7 L399.2 440.1 L396.2 440.6 L393.2 441.0 L390.2 441.3 L387.2 441.7 L384.2 442.1 L381.2 442.4 L378.2 442.7 L375.2 443.0 L372.2 443.3 L369.2 443.6 L366.2 443.9 L363.2 444.1 L360.2 444.4 L357.2 444.6 L354.2 444.8 L351.2 445.0 L348.2 445.2 L345.2 445.4 L342.2 445.5 L339.2 445.7 L336.2 445.8 L333.2 446.0 L330.2 446.1 L327.2 446.2 L324.2 446.3 L321.2 446.4 L318.2 446.5 L315.2 446.6 L312.2 446.7 L309.2 446.8 L306.2 446.9 L303.2 446.9 L300.2 447.0 L297.2 447.1 L294.2 447.1 L291.2 447.2 L288.2 447.2 L285.2 447.3 L282.2 447.3 L279.2 447.3 L276.2 447.4 L273.2 447.4 L270.2 447.4 L267.2 447.5 L264.2 447.5 L261.2 447.5 L258.2 447.5 L255.2 447.6 L252.2 447.6 L249.2 447.6 L246.2 447.6 L243.2 447.6 L240.2 447.6 L237.2 447.7 L234.2 447.7 L231.2 447.7 L228.2 447.7 L225.2 447.7 L222.2 447.7 L219.2 447.7 L216.2 447.7 L213.2 447.7 L210.2 447.7 L207.2 447.7 L204.2 447.8 L201.2 447.8 L198.2 447.8 L195.2 447.8 L192.2 447.8 L189.2 447.8 L186.2 447.8 L183.2 447.8 L180.2 447.8 L177.2 447.8 L174.2 447.8 L171.2 447.8 L168.2 447.8 L165.2 447.8 L162.2 447.8 L159.2 447.8 L156.2 447.8 L153.2 447.8 L150.2 447.8 L147.2 447.8" fill="none" stroke="#00ff00" stroke-width="2.6" stroke-linejoin="miter"/>
<path d="M147.2 350.6 L150.2 350.6 L153.2 350.6 L156.2 350.6 L159.2 350.6 L162.2 350.6 L165.2 350.6 L168.2 350.6 L171.2 350.6 L174.2 350.6 L177.2 350.6 L180.2 350.6 L183.2 350.6 L186.2 350.6 L189.2 350.6 L192.2 350.6 L195.2 350.6 L198.2 350.6 L201.2 350.6 L204.2 350.6 L207.2 350.6 L210.2 350.6 L213.2 350.6 L216.2 350.6 L219.2 350.6 L222.2 350.6 L225.2 350.6 L228.2 350.6 L231.2 350.6 L234.2 350.6 L237.2 350.6 L240.2 350.6 L243.2 350.6 L246.2 350.6 L249.2 350.6 L252.2 350.6 L255.2 350.6 L258.2 350.6 L261.2 350.6 L264.2 350.6 L267.2 350.6 L270.2 350.6 L273.2 350.6 L276.2 350.6 L279.2 350.6 L282.2 350.6 L285.2 350.6 L288.2 350.6 L291.2 350.6 L294.2 350.6 L297.2 350.6 L300.2 350.6 L303.2 350.6 L306.2 350.6 L309.2 350.6 L312.2 350.6 L315.2 350.6 L318.2 350.6 L321.2 350.6 L324.2 350.6 L327.2 350.6 L330.2 350.6 L333.2 350.6 L336.2 350.6 L339.2 350.6 L342.2 350.6 L345.2 350.6 L348.2 350.6 L351.2 350.6 L354.2 350.6 L357.2 350.6 L360.2 350.6 L363.2 350.6 L366.2 350.6 L369.2 350.6 L372.2 350.6 L375.2 350.6 L378.2 350.6 L381.2 350.6 L384.2 350.6 L387.2 350.6 L390.2 350.6 L393.2 350.6 L396.2 350.6 L399.2 350.6 L402.2 350.6 L405.2 350.6 L408.2 350.6 L411.2 350.6 L414.2 350.6 L417.2 350.6 L420.2 350.6 L423.2 350.6 L426.2 350.6 L429.2 350.6 L432.2 350.6 L435.2 350.6 L438.2 350.6 L441.2 350.6 L444.2 350.6 L447.2 350.6 L450.2 350.5 L453.2 350.5 L456.2 350.5 L459.2 350.5 L462.2 350.5 L465.2 350.5 L468.2 350.5 L471.2 350.5 L474.2 350.5 L477.2 350.5 L480.2 350.5 L483.2 350.5 L486.2 350.5 L489.2 350.5 L492.2 350.4 L495.2 350.4 L498.2 350.4 L501.2 350.4 L504.2 350.4 L507.2 350.4 L510.2 350.4 L513.2 350.3 L516.2 350.3 L519.2 350.3 L522.2 350.3 L525.2 350.3 L528.2 350.2 L531.2 350.2 L534.2 350.2 L537.2 350.2 L540.2 350.1 L543.2 350.1 L546.2 350.1 L549.2 350.0 L552.2 350.0 L555.2 349.9 L558.2 349.9 L561.2 349.9 L564.2 349.8 L567.2 349.7 L570.2 349.7 L573.2 349.6 L576.2 349.6 L579.2 349.5 L582.2 349.4 L585.2 349.4 L588.2 349.3 L591.2 349.2 L594.2 349.1 L597.2 349.0 L600.2 348.9 L603.2 348.8 L606.2 348.7 L609.2 348.6 L612.2 348.5 L615.2 348.3 L618.2 348.2 L621.2 348.0 L624.2 347.9 L627.2 347.7 L630.2 347.6 L633.2 347.4 L636.2 347.2 L639.2 347.0 L642.2 346.8 L645.2 346.6 L648.2 346.4 L651.2 346.2 L654.2 345.9 L657.2 345.7 L660.2 345.4 L663.2 345.2 L666.2 344.9 L669.2 344.6 L672.2 344.3 L675.2 344.0 L678.2 343.7 L681.2 343.4 L684.2 343.1 L687.2 342.8 L690.2 342.4 L693.2 342.1 L696.2 341.7 L699.2 341.4 L702.2 341.0 L705.2 340.7 L708.2 340.3 L711.2 340.0 L714.2 339.6 L717.2 339.2 L720.2 338.9 L723.2 338.5 L726.2 338.1 L729.2 337.8 L732.2 337.4 L735.2 337.0 L738.2 336.7 L741.2 336.3 L744.2 336.0 L747.2 335.7 L750.2 335.3 L753.2 335.0 L756.2 334.7 L759.2 334.4 L762.2 334.0 L765.2 333.7 L768.2 333.5 L768.4 333.4 L768.4 413.6 L768.2 413.7 L765.2 414.3 L762.2 414.9 L759.2 415.6 L756.2 416.2 L753.2 416.9 L750.2 417.5 L747.2 418.2 L744.2 418.8 L741.2 419.4 L738.2 420.1 L735.2 420.7 L732.2 421.4 L729.2 422.0 L726.2 422.6 L723.2 423.3 L720.2 423.9 L717.2 424.6 L714.2 425.2 L711.2 425.8 L708.2 426.5 L705.2 427.1 L702.2 427.7 L699.2 428.3 L696.2 428.9 L693.2 429.5 L690.2 430.1 L687.2 430.7 L684.2 431.3 L681.2 431.9 L678.2 432.5 L675.2 433.1 L672.2 433.6 L669.2 434.2 L666.2 434.7 L663.2 435.3 L660.2 435.8 L657.2 436.3 L654.2 436.8 L651.2 437.3 L648.2 437.8 L645.2 438.3 L642.2 438.7 L639.2 439.2 L636.2 439.6 L633.2 440.0 L630.2 440.4 L627.2 440.8 L624.2 441.1 L621.2 441.5 L618.2 441.8 L615.2 442.2 L612.2 442.5 L609.2 442.8 L606.2 443.1 L603.2 443.4 L600.2 443.6 L597.2 443.9 L594.2 444.1 L591.2 444.3 L588.2 444.5 L585.2 444.7 L582.2 444.9 L579.2 445.1 L576.2 445.3 L573.2 445.4 L570.2 445.6 L567.2 445.7 L564.2 445.9 L561.2 446.0 L558.2 446.1 L555.2 446.2 L552.2 446.3 L549.2 446.4 L546.2 446.5 L543.2 446.6 L540.2 446.7 L537.2 446.8 L534.2 446.9 L531.2 446.9 L528.2 447.0 L525.2 447.0 L522.2 447.1 L519.2 447.1 L516.2 447.2 L513.2 447.2 L510.2 447.3 L507.2 447.3 L504.2 447.3 L501.2 447.4 L498.2 447.4 L495.2 447.4 L492.2 447.5 L489.2 447.5 L486.2 447.5 L483.2 447.5 L480.2 447.6 L477.2 447.6 L474.2 447.6 L471.2 447.6 L468.2 447.6 L465.2 447.6 L462.2 447.7 L459.2 447.7 L456.2 447.7 L453.2 447.7 L450.2 447.7 L447.2 447.7 L444.2 447.7 L441.2 447.7 L438.2 447.7 L435.2 447.7 L432.2 447.7 L429.2 447.7 L426.2 447.8 L423.2 447.8 L420.2 447.8 L417.2 447.8 L414.2 447.8 L411.2 447.8 L408.2 447.8 L405.2 447.8 L402.2 447.8 L399.2 447.8 L396.2 447.8 L393.2 447.8 L390.2 447.8 L387.2 447.8 L384.2 447.8 L381.2 447.8 L378.2 447.8 L375.2 447.8 L372.2 447.8 L369.2 447.8 L366.2 447.8 L363.2 447.8 L360.2 447.8 L357.2 447.8 L354.2 447.8 L351.2 447.8 L348.2 447.8 L345.2 447.8 L342.2 447.8 L339.2 447.8 L336.2 447.8 L333.2 447.8 L330.2 447.8 L327.2 447.8 L324.2 447.8 L321.2 447.8 L318.2 447.8 L315.2 447.8 L312.2 447.8 L309.2 447.8 L306.2 447.8 L303.2 447.8 L300.2 447.8 L297.2 447.8 L294.2 447.8 L291.2 447.8 L288.2 447.8 L285.2 447.8 L282.2 447.8 L279.2 447.8 L276.2 447.8 L273.2 447.8 L270.2 447.8 L267.2 447.8 L264.2 447.8 L261.2 447.8 L258.2 447.8 L255.2 447.8 L252.2 447.8 L249.2 447.8 L246.2 447.8 L243.2 447.8 L240.2 447.8 L237.2 447.8 L234.2 447.8 L231.2 447.8 L228.2 447.8 L225.2 447.8 L222.2 447.8 L219.2 447.8 L216.2 447.8 L213.2 447.8 L210.2 447.8 L207.2 447.8 L204.2 447.8 L201.2 447.8 L198.2 447.8 L195.2 447.8 L192.2 447.8 L189.2 447.8 L186.2 447.8 L183.2 447.8 L180.2 447.8 L177.2 447.8 L174.2 447.8 L171.2 447.8 L168.2 447.8 L165.2 447.8 L162.2 447.8 L159.2 447.8 L156.2 447.8 L153.2 447.8 L150.2 447.8 L147.2 447.8" fill="none" stroke="#ff0000" stroke-width="2.6" stroke-linejoin="miter"/></g>
<g><circle cx="422.0" cy="385.6" r="7.4" fill="#ff0000"/>
<circle cx="541.0" cy="401.5" r="7.4" fill="#ff0000"/>
<circle cx="600.7" cy="371.8" r="7.4" fill="#ff0000"/>
<circle cx="609.3" cy="364.4" r="7.4" fill="#ff0000"/>
<circle cx="653.0" cy="398.7" r="7.4" fill="#ff0000"/>
<circle cx="674.8" cy="362.8" r="7.4" fill="#ff0000"/>
<circle cx="688.7" cy="370.6" r="7.4" fill="#ff0000"/>
<circle cx="699.6" cy="355.0" r="7.4" fill="#ff0000"/>
<circle cx="738.1" cy="354.2" r="7.4" fill="#ff0000"/>
<circle cx="524.9" cy="350.8" r="7.4" fill="#00ff00"/>
<circle cx="607.2" cy="334.0" r="7.4" fill="#00ff00"/>
<circle cx="623.9" cy="332.6" r="7.4" fill="#00ff00"/>
<circle cx="663.6" cy="321.9" r="7.4" fill="#00ff00"/>
<circle cx="663.6" cy="326.5" r="7.4" fill="#00ff00"/>
<circle cx="663.6" cy="331.0" r="7.4" fill="#00ff00"/>
<circle cx="701.5" cy="309.0" r="7.4" fill="#00ff00"/>
<circle cx="742.5" cy="299.8" r="7.4" fill="#00ff00"/>
<circle cx="746.2" cy="306.9" r="7.4" fill="#00ff00"/>
<circle cx="762.0" cy="294.0" r="7.4" fill="#00ff00"/>
<circle cx="480.4" cy="308.5" r="7.4" fill="#0000ff"/>
<circle cx="612.4" cy="288.4" r="7.4" fill="#0000ff"/>
<circle cx="635.1" cy="268.5" r="7.4" fill="#0000ff"/>
<circle cx="655.6" cy="282.2" r="7.4" fill="#0000ff"/>
<circle cx="674.6" cy="264.3" r="7.4" fill="#0000ff"/>
<circle cx="710.7" cy="231.4" r="7.4" fill="#0000ff"/>
<circle cx="736.0" cy="210.0" r="7.4" fill="#0000ff"/>
<circle cx="741.0" cy="209.0" r="7.4" fill="#0000ff"/>
<circle cx="752.0" cy="202.4" r="7.4" fill="#0000ff"/>
<circle cx="439.4" cy="293.0" r="7.4" fill="#ff00ff"/>
<circle cx="444.4" cy="306.8" r="7.4" fill="#ff00ff"/>
<circle cx="521.4" cy="226.2" r="7.4" fill="#ff00ff"/>
<circle cx="532.9" cy="210.7" r="7.4" fill="#ff00ff"/>
<circle cx="553.9" cy="189.2" r="7.4" fill="#ff00ff"/>
<circle cx="579.2" cy="206.9" r="7.4" fill="#ff00ff"/>
<circle cx="636.8" cy="121.7" r="7.4" fill="#ff00ff"/>
<circle cx="655.1" cy="138.0" r="7.4" fill="#ff00ff"/>
<circle cx="671.7" cy="134.2" r="7.4" fill="#ff00ff"/>
<circle cx="506.6" cy="382.5" r="7.3" fill="none" stroke="#ff0000" stroke-width="0.8"/><circle cx="506.6" cy="382.5" r="0.45" fill="#ff0000" opacity="0.8"/>
<circle cx="589.8" cy="391.4" r="7.3" fill="none" stroke="#ff0000" stroke-width="0.8"/><circle cx="589.8" cy="391.4" r="0.45" fill="#ff0000" opacity="0.8"/>
<circle cx="613.7" cy="371.4" r="7.3" fill="none" stroke="#ff0000" stroke-width="0.8"/><circle cx="613.7" cy="371.4" r="0.45" fill="#ff0000" opacity="0.8"/>
<circle cx="698.4" cy="344.0" r="7.3" fill="none" stroke="#ff0000" stroke-width="0.8"/><circle cx="698.4" cy="344.0" r="0.45" fill="#ff0000" opacity="0.8"/>
<circle cx="755.2" cy="347.6" r="7.3" fill="none" stroke="#ff0000" stroke-width="0.8"/><circle cx="755.2" cy="347.6" r="0.45" fill="#ff0000" opacity="0.8"/>
<circle cx="477.5" cy="345.5" r="7.3" fill="none" stroke="#00ff00" stroke-width="0.8"/><circle cx="477.5" cy="345.5" r="0.45" fill="#00ff00" opacity="0.8"/>
<circle cx="532.1" cy="384.1" r="7.3" fill="none" stroke="#00ff00" stroke-width="0.8"/><circle cx="532.1" cy="384.1" r="0.45" fill="#00ff00" opacity="0.8"/>
<circle cx="556.8" cy="372.6" r="7.3" fill="none" stroke="#00ff00" stroke-width="0.8"/><circle cx="556.8" cy="372.6" r="0.45" fill="#00ff00" opacity="0.8"/>
<circle cx="631.3" cy="324.2" r="7.3" fill="none" stroke="#00ff00" stroke-width="0.8"/><circle cx="631.3" cy="324.2" r="0.45" fill="#00ff00" opacity="0.8"/>
<circle cx="639.6" cy="316.7" r="7.3" fill="none" stroke="#00ff00" stroke-width="0.8"/><circle cx="639.6" cy="316.7" r="0.45" fill="#00ff00" opacity="0.8"/>
<circle cx="662.6" cy="312.9" r="7.3" fill="none" stroke="#00ff00" stroke-width="0.8"/><circle cx="662.6" cy="312.9" r="0.45" fill="#00ff00" opacity="0.8"/>
<circle cx="685.5" cy="325.3" r="7.3" fill="none" stroke="#00ff00" stroke-width="0.8"/><circle cx="685.5" cy="325.3" r="0.45" fill="#00ff00" opacity="0.8"/>
<circle cx="737.5" cy="298.2" r="7.3" fill="none" stroke="#00ff00" stroke-width="0.8"/><circle cx="737.5" cy="298.2" r="0.45" fill="#00ff00" opacity="0.8"/>
<circle cx="764.5" cy="300.0" r="7.3" fill="none" stroke="#00ff00" stroke-width="0.8"/><circle cx="764.5" cy="300.0" r="0.45" fill="#00ff00" opacity="0.8"/>
<circle cx="377.9" cy="325.0" r="7.3" fill="none" stroke="#0000ff" stroke-width="0.8"/><circle cx="377.9" cy="325.0" r="0.45" fill="#0000ff" opacity="0.8"/>
<circle cx="440.2" cy="320.5" r="7.3" fill="none" stroke="#0000ff" stroke-width="0.8"/><circle cx="440.2" cy="320.5" r="0.45" fill="#0000ff" opacity="0.8"/>
<circle cx="541.0" cy="314.0" r="7.3" fill="none" stroke="#0000ff" stroke-width="0.8"/><circle cx="541.0" cy="314.0" r="0.45" fill="#0000ff" opacity="0.8"/>
<circle cx="637.6" cy="267.6" r="7.3" fill="none" stroke="#0000ff" stroke-width="0.8"/><circle cx="637.6" cy="267.6" r="0.45" fill="#0000ff" opacity="0.8"/>
<circle cx="650.3" cy="270.2" r="7.3" fill="none" stroke="#0000ff" stroke-width="0.8"/><circle cx="650.3" cy="270.2" r="0.45" fill="#0000ff" opacity="0.8"/>
<circle cx="698.3" cy="241.8" r="7.3" fill="none" stroke="#0000ff" stroke-width="0.8"/><circle cx="698.3" cy="241.8" r="0.45" fill="#0000ff" opacity="0.8"/>
<circle cx="744.9" cy="204.1" r="7.3" fill="none" stroke="#0000ff" stroke-width="0.8"/><circle cx="744.9" cy="204.1" r="0.45" fill="#0000ff" opacity="0.8"/>
<circle cx="763.1" cy="203.5" r="7.3" fill="none" stroke="#0000ff" stroke-width="0.8"/><circle cx="763.1" cy="203.5" r="0.45" fill="#0000ff" opacity="0.8"/>
<circle cx="235.7" cy="341.4" r="7.3" fill="none" stroke="#ff00ff" stroke-width="0.8"/><circle cx="235.7" cy="341.4" r="0.45" fill="#ff00ff" opacity="0.8"/>
<circle cx="381.2" cy="296.7" r="7.3" fill="none" stroke="#ff00ff" stroke-width="0.8"/><circle cx="381.2" cy="296.7" r="0.45" fill="#ff00ff" opacity="0.8"/>
<circle cx="465.3" cy="249.0" r="7.3" fill="none" stroke="#ff00ff" stroke-width="0.8"/><circle cx="465.3" cy="249.0" r="0.45" fill="#ff00ff" opacity="0.8"/>
<circle cx="567.5" cy="278.1" r="7.3" fill="none" stroke="#ff00ff" stroke-width="0.8"/><circle cx="567.5" cy="278.1" r="0.45" fill="#ff00ff" opacity="0.8"/>
<circle cx="584.5" cy="249.5" r="7.3" fill="none" stroke="#ff00ff" stroke-width="0.8"/><circle cx="584.5" cy="249.5" r="0.45" fill="#ff00ff" opacity="0.8"/>
<circle cx="631.2" cy="205.4" r="7.3" fill="none" stroke="#ff00ff" stroke-width="0.8"/><circle cx="631.2" cy="205.4" r="0.45" fill="#ff00ff" opacity="0.8"/>
<circle cx="726.1" cy="135.4" r="7.3" fill="none" stroke="#ff00ff" stroke-width="0.8"/><circle cx="726.1" cy="135.4" r="0.45" fill="#ff00ff" opacity="0.8"/>
<circle cx="736.5" cy="137.3" r="7.3" fill="none" stroke="#ff00ff" stroke-width="0.8"/><circle cx="736.5" cy="137.3" r="0.45" fill="#ff00ff" opacity="0.8"/>
<circle cx="716.9" cy="151.1" r="7.3" fill="none" stroke="#ff00ff" stroke-width="0.8"/><circle cx="716.9" cy="151.1" r="0.45" fill="#ff00ff" opacity="0.8"/>
<rect x="544.8" y="366.9" width="14.8" height="14.8" fill="#ff0000"/>
<rect x="656.6" y="370.6" width="14.8" height="14.8" fill="#ff0000"/>
<rect x="685.2" y="336.6" width="14.8" height="14.8" fill="#ff0000"/>
<rect x="701.1" y="357.9" width="14.8" height="14.8" fill="#ff0000"/>
<rect x="706.3" y="355.9" width="14.8" height="14.8" fill="#ff0000"/>
<rect x="723.4" y="342.8" width="14.8" height="14.8" fill="#ff0000"/>
<rect x="736.4" y="336.0" width="14.8" height="14.8" fill="#ff0000"/>
<rect x="401.1" y="373.7" width="14.8" height="14.8" fill="#00ff00"/>
<rect x="536.8" y="362.3" width="14.8" height="14.8" fill="#00ff00"/>
<rect x="613.7" y="328.0" width="14.8" height="14.8" fill="#00ff00"/>
<rect x="697.1" y="298.1" width="14.8" height="14.8" fill="#00ff00"/>
<rect x="710.1" y="296.5" width="14.8" height="14.8" fill="#00ff00"/>
<rect x="729.4" y="285.0" width="14.8" height="14.8" fill="#00ff00"/>
<rect x="444.1" y="341.1" width="14.8" height="14.8" fill="#0000ff"/>
<rect x="491.3" y="336.6" width="14.8" height="14.8" fill="#0000ff"/>
<rect x="533.3" y="289.1" width="14.8" height="14.8" fill="#0000ff"/>
<rect x="538.6" y="300.5" width="14.8" height="14.8" fill="#0000ff"/>
<rect x="626.1" y="236.9" width="14.8" height="14.8" fill="#0000ff"/>
<rect x="667.7" y="236.7" width="14.8" height="14.8" fill="#0000ff"/>
<rect x="710.1" y="222.2" width="14.8" height="14.8" fill="#0000ff"/>
<rect x="716.7" y="213.2" width="14.8" height="14.8" fill="#0000ff"/>
<rect x="728.1" y="213.2" width="14.8" height="14.8" fill="#0000ff"/>
<rect x="450.6" y="268.8" width="14.8" height="14.8" fill="#ff00ff"/>
<rect x="473.1" y="223.8" width="14.8" height="14.8" fill="#ff00ff"/>
<rect x="479.2" y="228.9" width="14.8" height="14.8" fill="#ff00ff"/>
<rect x="550.8" y="193.2" width="14.8" height="14.8" fill="#ff00ff"/>
<rect x="592.1" y="150.3" width="14.8" height="14.8" fill="#ff00ff"/>
<rect x="657.6" y="124.5" width="14.8" height="14.8" fill="#ff00ff"/>
<rect x="669.1" y="134.7" width="14.8" height="14.8" fill="#ff00ff"/>
<rect x="701.1" y="131.1" width="14.8" height="14.8" fill="#ff00ff"/>
<rect x="255.8" y="406.9" width="14.3" height="14.3" fill="none" stroke="#ff0000" stroke-width="0.8"/><circle cx="263.0" cy="414.0" r="0.45" fill="#ff0000" opacity="0.8"/>
<rect x="614.2" y="353.6" width="14.3" height="14.3" fill="none" stroke="#ff0000" stroke-width="0.8"/><circle cx="621.4" cy="360.7" r="0.45" fill="#ff0000" opacity="0.8"/>
<rect x="627.9" y="356.0" width="14.3" height="14.3" fill="none" stroke="#ff0000" stroke-width="0.8"/><circle cx="635.0" cy="363.1" r="0.45" fill="#ff0000" opacity="0.8"/>
<rect x="654.1" y="370.2" width="14.3" height="14.3" fill="none" stroke="#ff0000" stroke-width="0.8"/><circle cx="661.2" cy="377.4" r="0.45" fill="#ff0000" opacity="0.8"/>
<rect x="664.2" y="340.9" width="14.3" height="14.3" fill="none" stroke="#ff0000" stroke-width="0.8"/><circle cx="671.4" cy="348.0" r="0.45" fill="#ff0000" opacity="0.8"/>
<rect x="736.9" y="327.7" width="14.3" height="14.3" fill="none" stroke="#ff0000" stroke-width="0.8"/><circle cx="744.0" cy="334.8" r="0.45" fill="#ff0000" opacity="0.8"/>
<rect x="756.5" y="318.2" width="14.3" height="14.3" fill="none" stroke="#ff0000" stroke-width="0.8"/><circle cx="763.6" cy="325.4" r="0.45" fill="#ff0000" opacity="0.8"/>
<rect x="384.7" y="364.9" width="14.3" height="14.3" fill="none" stroke="#00ff00" stroke-width="0.8"/><circle cx="391.8" cy="372.0" r="0.45" fill="#00ff00" opacity="0.8"/>
<rect x="442.7" y="360.1" width="14.3" height="14.3" fill="none" stroke="#00ff00" stroke-width="0.8"/><circle cx="449.8" cy="367.2" r="0.45" fill="#00ff00" opacity="0.8"/>
<rect x="525.5" y="345.7" width="14.3" height="14.3" fill="none" stroke="#00ff00" stroke-width="0.8"/><circle cx="532.6" cy="352.8" r="0.45" fill="#00ff00" opacity="0.8"/>
<rect x="559.5" y="325.2" width="14.3" height="14.3" fill="none" stroke="#00ff00" stroke-width="0.8"/><circle cx="566.6" cy="332.3" r="0.45" fill="#00ff00" opacity="0.8"/>
<rect x="637.5" y="318.2" width="14.3" height="14.3" fill="none" stroke="#00ff00" stroke-width="0.8"/><circle cx="644.6" cy="325.3" r="0.45" fill="#00ff00" opacity="0.8"/>
<rect x="679.2" y="301.5" width="14.3" height="14.3" fill="none" stroke="#00ff00" stroke-width="0.8"/><circle cx="686.4" cy="308.6" r="0.45" fill="#00ff00" opacity="0.8"/>
<rect x="692.2" y="321.7" width="14.3" height="14.3" fill="none" stroke="#00ff00" stroke-width="0.8"/><circle cx="699.4" cy="328.8" r="0.45" fill="#00ff00" opacity="0.8"/>
<rect x="716.0" y="305.4" width="14.3" height="14.3" fill="none" stroke="#00ff00" stroke-width="0.8"/><circle cx="723.1" cy="312.5" r="0.45" fill="#00ff00" opacity="0.8"/>
<rect x="742.4" y="282.4" width="14.3" height="14.3" fill="none" stroke="#00ff00" stroke-width="0.8"/><circle cx="749.5" cy="289.5" r="0.45" fill="#00ff00" opacity="0.8"/>
<rect x="291.2" y="351.7" width="14.3" height="14.3" fill="none" stroke="#0000ff" stroke-width="0.8"/><circle cx="298.4" cy="358.8" r="0.45" fill="#0000ff" opacity="0.8"/>
<rect x="395.9" y="308.7" width="14.3" height="14.3" fill="none" stroke="#0000ff" stroke-width="0.8"/><circle cx="403.0" cy="315.8" r="0.45" fill="#0000ff" opacity="0.8"/>
<rect x="410.7" y="339.8" width="14.3" height="14.3" fill="none" stroke="#0000ff" stroke-width="0.8"/><circle cx="417.8" cy="346.9" r="0.45" fill="#0000ff" opacity="0.8"/>
<rect x="511.1" y="338.7" width="14.3" height="14.3" fill="none" stroke="#0000ff" stroke-width="0.8"/><circle cx="518.3" cy="345.8" r="0.45" fill="#0000ff" opacity="0.8"/>
<rect x="577.9" y="328.2" width="14.3" height="14.3" fill="none" stroke="#0000ff" stroke-width="0.8"/><circle cx="585.0" cy="335.4" r="0.45" fill="#0000ff" opacity="0.8"/>
<rect x="598.0" y="258.2" width="14.3" height="14.3" fill="none" stroke="#0000ff" stroke-width="0.8"/><circle cx="605.1" cy="265.3" r="0.45" fill="#0000ff" opacity="0.8"/>
<rect x="618.1" y="263.2" width="14.3" height="14.3" fill="none" stroke="#0000ff" stroke-width="0.8"/><circle cx="625.2" cy="270.4" r="0.45" fill="#0000ff" opacity="0.8"/>
<rect x="696.2" y="223.2" width="14.3" height="14.3" fill="none" stroke="#0000ff" stroke-width="0.8"/><circle cx="703.4" cy="230.3" r="0.45" fill="#0000ff" opacity="0.8"/>
<rect x="719.1" y="209.8" width="14.3" height="14.3" fill="none" stroke="#0000ff" stroke-width="0.8"/><circle cx="726.2" cy="217.0" r="0.45" fill="#0000ff" opacity="0.8"/>
<rect x="413.4" y="264.4" width="14.3" height="14.3" fill="none" stroke="#ff00ff" stroke-width="0.8"/><circle cx="420.5" cy="271.5" r="0.45" fill="#ff00ff" opacity="0.8"/>
<rect x="483.7" y="316.9" width="14.3" height="14.3" fill="none" stroke="#ff00ff" stroke-width="0.8"/><circle cx="490.8" cy="324.0" r="0.45" fill="#ff00ff" opacity="0.8"/>
<rect x="558.1" y="192.9" width="14.3" height="14.3" fill="none" stroke="#ff00ff" stroke-width="0.8"/><circle cx="565.3" cy="200.1" r="0.45" fill="#ff00ff" opacity="0.8"/>
<rect x="586.1" y="196.8" width="14.3" height="14.3" fill="none" stroke="#ff00ff" stroke-width="0.8"/><circle cx="593.3" cy="204.0" r="0.45" fill="#ff00ff" opacity="0.8"/>
<rect x="609.5" y="141.9" width="14.3" height="14.3" fill="none" stroke="#ff00ff" stroke-width="0.8"/><circle cx="616.6" cy="149.1" r="0.45" fill="#ff00ff" opacity="0.8"/>
<rect x="644.8" y="152.7" width="14.3" height="14.3" fill="none" stroke="#ff00ff" stroke-width="0.8"/><circle cx="651.9" cy="159.8" r="0.45" fill="#ff00ff" opacity="0.8"/>
<rect x="706.0" y="118.1" width="14.3" height="14.3" fill="none" stroke="#ff00ff" stroke-width="0.8"/><circle cx="713.1" cy="125.3" r="0.45" fill="#ff00ff" opacity="0.8"/>
<rect x="723.6" y="113.4" width="14.3" height="14.3" fill="none" stroke="#ff00ff" stroke-width="0.8"/><circle cx="730.7" cy="120.6" r="0.45" fill="#ff00ff" opacity="0.8"/></g>
<g><rect x="147.2" y="86.5" width="634.0" height="407.3" fill="none" stroke="#000" stroke-width="1.5"/>
<line x1="240.7" y1="493.8" x2="240.7" y2="486.8" stroke="#000" stroke-width="1.3"/>
<line x1="364.3" y1="493.8" x2="364.3" y2="486.8" stroke="#000" stroke-width="1.3"/>
<line x1="457.8" y1="493.8" x2="457.8" y2="486.8" stroke="#000" stroke-width="1.3"/>
<line x1="551.3" y1="493.8" x2="551.3" y2="486.8" stroke="#000" stroke-width="1.3"/>
<line x1="674.9" y1="493.8" x2="674.9" y2="486.8" stroke="#000" stroke-width="1.3"/>
<line x1="738.3" y1="493.8" x2="738.3" y2="486.8" stroke="#000" stroke-width="1.3"/>
<line x1="768.4" y1="493.8" x2="768.4" y2="486.8" stroke="#000" stroke-width="1.3"/>
<line x1="240.0" y1="86.5" x2="240.0" y2="93.5" stroke="#000" stroke-width="1.3"/>
<line x1="454.4" y1="86.5" x2="454.4" y2="93.5" stroke="#000" stroke-width="1.3"/>
<line x1="544.4" y1="86.5" x2="544.4" y2="93.5" stroke="#000" stroke-width="1.3"/>
<line x1="729.6" y1="86.5" x2="729.6" y2="93.5" stroke="#000" stroke-width="1.3"/>
<line x1="768.4" y1="86.5" x2="768.4" y2="93.5" stroke="#000" stroke-width="1.3"/>
<line x1="332.8" y1="86.5" x2="332.8" y2="90.0" stroke="#000" stroke-width="1.3"/>
<line x1="386.9" y1="86.5" x2="386.9" y2="90.0" stroke="#000" stroke-width="1.3"/>
<line x1="425.0" y1="86.5" x2="425.0" y2="90.0" stroke="#000" stroke-width="1.3"/>
<line x1="478.3" y1="86.5" x2="478.3" y2="90.0" stroke="#000" stroke-width="1.3"/>
<line x1="498.4" y1="86.5" x2="498.4" y2="90.0" stroke="#000" stroke-width="1.3"/>
<line x1="515.7" y1="86.5" x2="515.7" y2="90.0" stroke="#000" stroke-width="1.3"/>
<line x1="530.9" y1="86.5" x2="530.9" y2="90.0" stroke="#000" stroke-width="1.3"/>
<line x1="630.6" y1="86.5" x2="630.6" y2="90.0" stroke="#000" stroke-width="1.3"/>
<line x1="677.6" y1="86.5" x2="677.6" y2="90.0" stroke="#000" stroke-width="1.3"/>
<line x1="708.2" y1="86.5" x2="708.2" y2="90.0" stroke="#000" stroke-width="1.3"/>
<line x1="744.9" y1="86.5" x2="744.9" y2="90.0" stroke="#000" stroke-width="1.3"/>
<line x1="755.7" y1="86.5" x2="755.7" y2="90.0" stroke="#000" stroke-width="1.3"/>
<line x1="762.9" y1="86.5" x2="762.9" y2="90.0" stroke="#000" stroke-width="1.3"/>
<line x1="767.0" y1="86.5" x2="767.0" y2="90.0" stroke="#000" stroke-width="1.3"/>
<line x1="781.2" y1="414.4" x2="774.2" y2="414.4" stroke="#000" stroke-width="1.3"/>
<line x1="147.2" y1="309.4" x2="154.2" y2="309.4" stroke="#000" stroke-width="1.3"/>
<line x1="781.2" y1="309.4" x2="774.2" y2="309.4" stroke="#000" stroke-width="1.3"/>
<line x1="147.2" y1="230.0" x2="154.2" y2="230.0" stroke="#000" stroke-width="1.3"/>
<line x1="781.2" y1="230.0" x2="774.2" y2="230.0" stroke="#000" stroke-width="1.3"/>
<line x1="147.2" y1="150.6" x2="154.2" y2="150.6" stroke="#000" stroke-width="1.3"/>
<line x1="781.2" y1="150.6" x2="774.2" y2="150.6" stroke="#000" stroke-width="1.3"/></g>
<g opacity="0.999"><text transform="translate(243.3,533.9) scale(0.975,1.06)" font-size="29" text-anchor="middle" >0.02</text>
<text transform="translate(366.9,533.9) scale(0.975,1.06)" font-size="29" text-anchor="middle" >0.05</text>
<text transform="translate(460.4,533.9) scale(0.975,1.06)" font-size="29" text-anchor="middle" >0.1</text>
<text transform="translate(553.9,533.9) scale(0.975,1.06)" font-size="29" text-anchor="middle" >0.2</text>
<text transform="translate(677.5,533.9) scale(0.975,1.06)" font-size="29" text-anchor="middle" >0.5</text>
<text transform="translate(740.9,533.9) scale(0.975,1.06)" font-size="29" text-anchor="middle" >0.8</text>
<text transform="translate(771.0,533.9) scale(0.975,1.06)" font-size="29" text-anchor="middle" >1</text>
<text transform="translate(239.3,67.7) scale(0.975,1.06)" font-size="29" text-anchor="middle" >0.99</text>
<text transform="translate(453.7,67.7) scale(0.975,1.06)" font-size="29" text-anchor="middle" >0.95</text>
<text transform="translate(543.7,67.7) scale(0.975,1.06)" font-size="29" text-anchor="middle" >0.9</text>
<text transform="translate(727.4,67.7) scale(0.975,1.06)" font-size="29" text-anchor="middle" >0.5</text>
<text transform="translate(767.7,67.7) scale(0.975,1.06)" font-size="29" text-anchor="middle" >0</text>
<text transform="translate(130.5,504.8) scale(0.975,1.06)" font-size="29" text-anchor="end" >10</text>
<text transform="translate(130.5,425.4) scale(0.975,1.06)" font-size="29" text-anchor="end" >20</text>
<text transform="translate(130.5,320.4) scale(0.975,1.06)" font-size="29" text-anchor="end" >50</text>
<text transform="translate(130.5,241.0) scale(0.975,1.06)" font-size="29" text-anchor="end" >100</text>
<text transform="translate(130.5,161.6) scale(0.975,1.06)" font-size="29" text-anchor="end" >200</text>
<text transform="translate(464.0,24.3) scale(0.975,1.06)" font-size="29" text-anchor="middle" >e</text>
<text transform="translate(465.6,579.2) scale(0.975,1.06)" font-size="29" text-anchor="middle" >1-e<tspan dy="-13" dx="0.5" font-size="22">2</tspan></text>
<text transform="translate(35.6,320.6) rotate(-90) scale(1.2,1.06)" font-size="29">τ</text>
<text transform="translate(44.4,307.4) rotate(-90) scale(1.05,1.06)" font-size="22.5">merg</text>
<text transform="translate(172.0,129.8) scale(0.975,1.01)" font-size="29" text-anchor="start" >N=25k:</text>
<text transform="translate(172.0,159.8) scale(0.975,1.01)" font-size="29" text-anchor="start" >N=50k:</text>
<text transform="translate(304.0,129.8) scale(0.975,1.01)" font-size="29" text-anchor="start" >- full PN;</text>
<text transform="translate(303.5,159.8) scale(0.975,1.01)" font-size="29" text-anchor="start" >- full PN;</text>
<text transform="translate(467.5,129.8) scale(0.975,1.01)" font-size="29" text-anchor="start" >- PN2.5</text>
<text transform="translate(463.5,159.8) scale(0.975,1.01)" font-size="29" text-anchor="start" >- PN2.5</text></g>
<g><circle cx="285.7" cy="120" r="10.2" fill="#000"/>
<rect x="275.8" y="140.2" width="19.8" height="19" fill="#000"/>
<path fill-rule="evenodd" fill="#000" d="M435.6 119.9 a11.85 10.6 0 1 0 23.7 0 a11.85 10.6 0 1 0 -23.7 0 Z M436.6 119.5 a9.8 9.7 0 1 0 19.6 0 a9.8 9.7 0 1 0 -19.6 0 Z"/>
<rect x="438" y="142.8" width="16.9" height="16.8" fill="#000"/><rect x="435.6" y="140.5" width="15.7" height="15.7" fill="#fff" stroke="#000" stroke-width="0.9"/></g>
</svg>
</body></html>
